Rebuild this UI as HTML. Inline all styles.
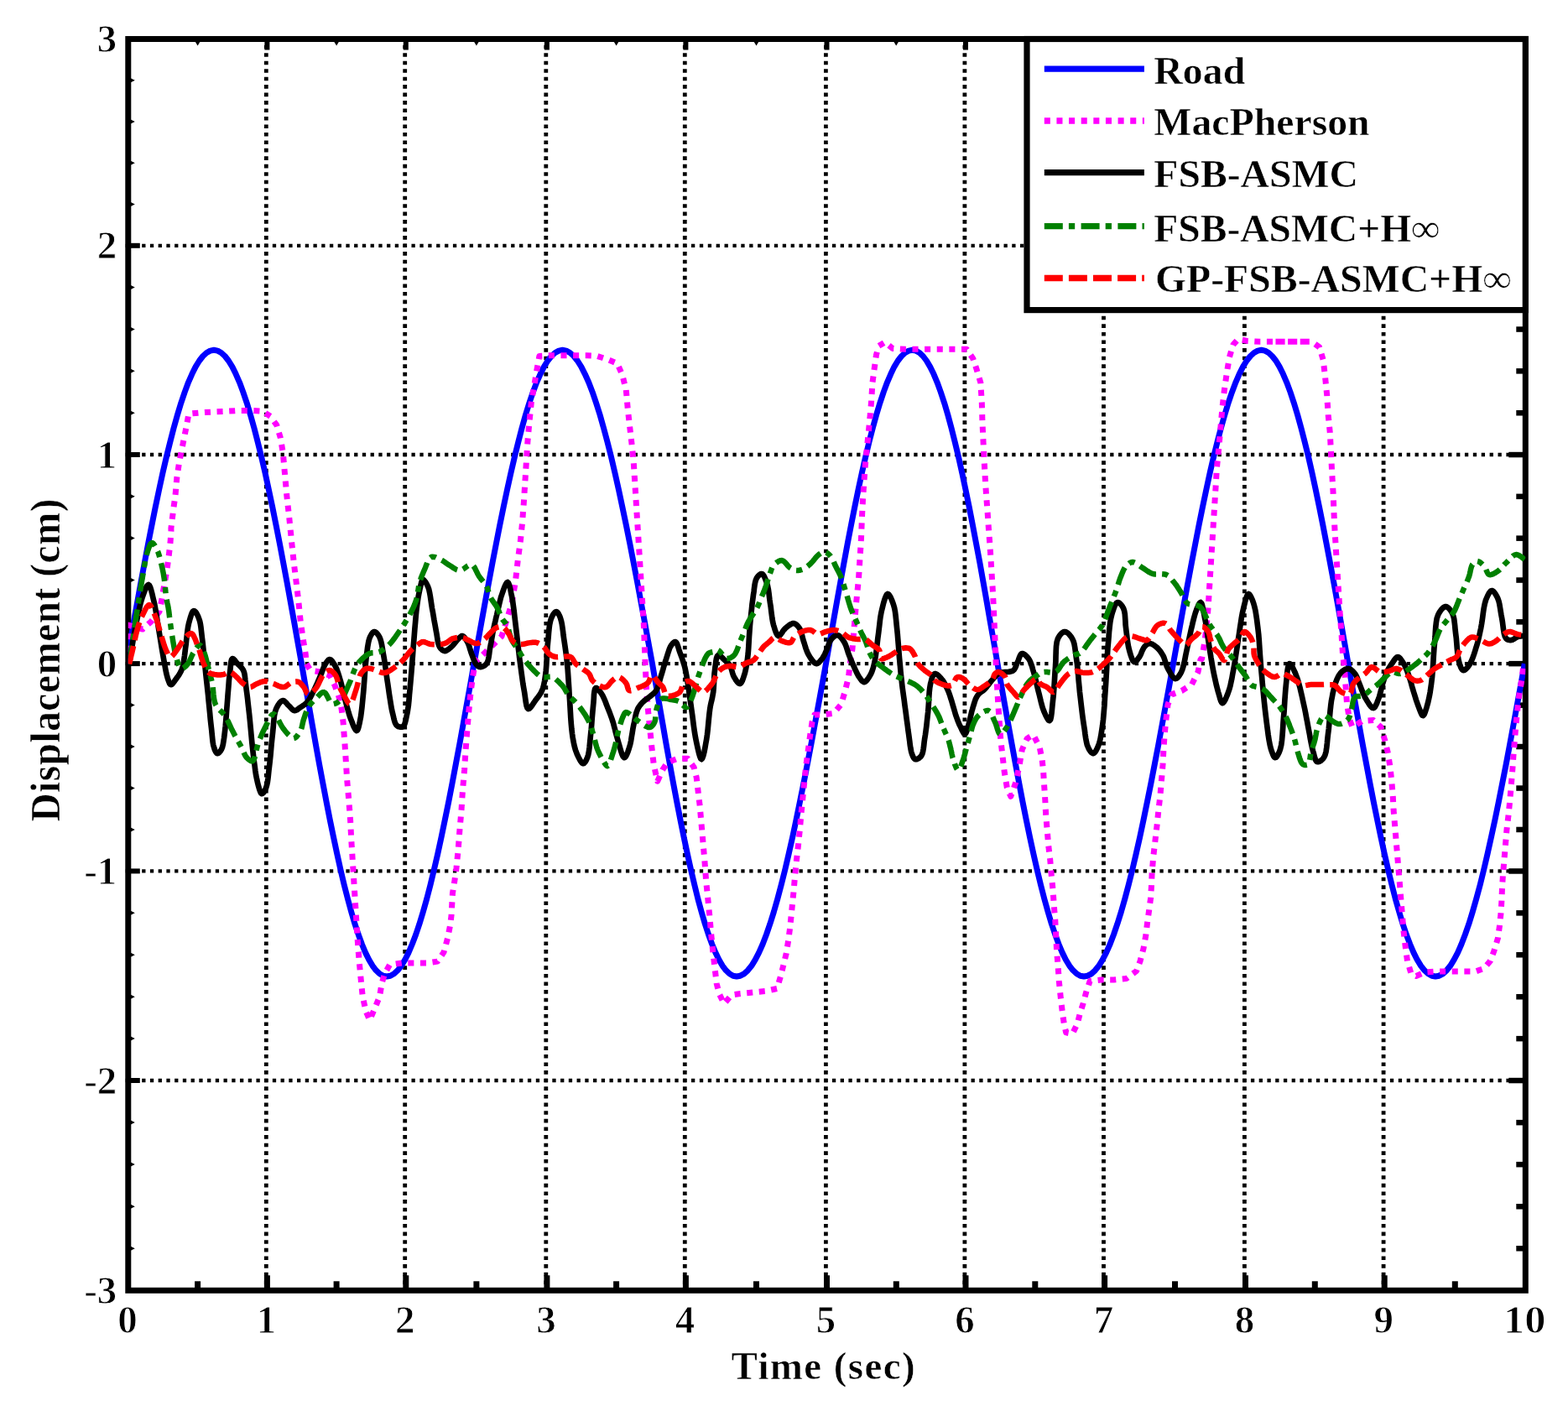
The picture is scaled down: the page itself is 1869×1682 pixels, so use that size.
<!DOCTYPE html>
<html lang="en"><head><meta charset="utf-8"><title>Displacement vs Time</title>
<style>html,body{margin:0;padding:0;background:#fff}body{width:1869px;height:1682px;overflow:hidden}svg{display:block}text{font-family:"Liberation Serif","DejaVu Serif",serif;font-weight:bold;fill:#000}.tk{font-size:47px;stroke:#fff;stroke-width:.9px}.lb{font-size:47px;stroke:#fff;stroke-width:.5px}.lg{font-size:47px;stroke:#fff;stroke-width:.5px}</style></head><body>
<svg width="1869" height="1682" viewBox="0 0 1869 1682">
<rect width="1869" height="1682" fill="#fff"/>
<defs><clipPath id="ax"><rect x="152.8" y="46.5" width="1665.5" height="1491.8"/></clipPath></defs>
<g fill="none" stroke="#000" stroke-width="4.3"><path d="M149.7 292.8 H315.1" stroke-dasharray="4.3 5.435"/><path d="M315.1 292.8 H480.5" stroke-dasharray="4.3 5.429"/><path d="M480.6 292.8 H648.6" stroke-dasharray="4.3 5.588"/><path d="M648.6 292.8 H814.1" stroke-dasharray="4.3 5.435"/><path d="M814.1 292.8 H982.2" stroke-dasharray="4.3 5.588"/><path d="M982.2 292.8 H1147.7" stroke-dasharray="4.3 5.435"/><path d="M1147.8 292.8 H1313.3" stroke-dasharray="4.3 5.441"/><path d="M1313.3 292.8 H1481.2" stroke-dasharray="4.3 5.576"/><path d="M1481.2 292.8 H1646.9" stroke-dasharray="4.3 5.447"/><path d="M1647 292.8 H1815.1" stroke-dasharray="4.3 5.594"/><path d="M149.7 542 H315.1" stroke-dasharray="4.3 5.435"/><path d="M315.1 542 H480.5" stroke-dasharray="4.3 5.429"/><path d="M480.6 542 H648.6" stroke-dasharray="4.3 5.588"/><path d="M648.6 542 H814.1" stroke-dasharray="4.3 5.435"/><path d="M814.1 542 H982.2" stroke-dasharray="4.3 5.588"/><path d="M982.2 542 H1147.7" stroke-dasharray="4.3 5.435"/><path d="M1147.8 542 H1313.3" stroke-dasharray="4.3 5.441"/><path d="M1313.3 542 H1481.2" stroke-dasharray="4.3 5.576"/><path d="M1481.2 542 H1646.9" stroke-dasharray="4.3 5.447"/><path d="M1647 542 H1815.1" stroke-dasharray="4.3 5.594"/><path d="M149.7 791.1 H315.1" stroke-dasharray="4.3 5.435"/><path d="M315.1 791.1 H480.5" stroke-dasharray="4.3 5.429"/><path d="M480.6 791.1 H648.6" stroke-dasharray="4.3 5.588"/><path d="M648.6 791.1 H814.1" stroke-dasharray="4.3 5.435"/><path d="M814.1 791.1 H982.2" stroke-dasharray="4.3 5.588"/><path d="M982.2 791.1 H1147.7" stroke-dasharray="4.3 5.435"/><path d="M1147.8 791.1 H1313.3" stroke-dasharray="4.3 5.441"/><path d="M1313.3 791.1 H1481.2" stroke-dasharray="4.3 5.576"/><path d="M1481.2 791.1 H1646.9" stroke-dasharray="4.3 5.447"/><path d="M1647 791.1 H1815.1" stroke-dasharray="4.3 5.594"/><path d="M149.7 1038.4 H315.1" stroke-dasharray="4.3 5.435"/><path d="M315.1 1038.4 H480.5" stroke-dasharray="4.3 5.429"/><path d="M480.6 1038.4 H648.6" stroke-dasharray="4.3 5.588"/><path d="M648.6 1038.4 H814.1" stroke-dasharray="4.3 5.435"/><path d="M814.1 1038.4 H982.2" stroke-dasharray="4.3 5.588"/><path d="M982.2 1038.4 H1147.7" stroke-dasharray="4.3 5.435"/><path d="M1147.8 1038.4 H1313.3" stroke-dasharray="4.3 5.441"/><path d="M1313.3 1038.4 H1481.2" stroke-dasharray="4.3 5.576"/><path d="M1481.2 1038.4 H1646.9" stroke-dasharray="4.3 5.447"/><path d="M1647 1038.4 H1815.1" stroke-dasharray="4.3 5.594"/><path d="M149.7 1288 H315.1" stroke-dasharray="4.3 5.435"/><path d="M315.1 1288 H480.5" stroke-dasharray="4.3 5.429"/><path d="M480.6 1288 H648.6" stroke-dasharray="4.3 5.588"/><path d="M648.6 1288 H814.1" stroke-dasharray="4.3 5.435"/><path d="M814.1 1288 H982.2" stroke-dasharray="4.3 5.588"/><path d="M982.2 1288 H1147.7" stroke-dasharray="4.3 5.435"/><path d="M1147.8 1288 H1313.3" stroke-dasharray="4.3 5.441"/><path d="M1313.3 1288 H1481.2" stroke-dasharray="4.3 5.576"/><path d="M1481.2 1288 H1646.9" stroke-dasharray="4.3 5.447"/><path d="M1647 1288 H1815.1" stroke-dasharray="4.3 5.594"/></g>
<g fill="none" stroke="#000" stroke-width="4.8"><path d="M317.3 44.3 V290.5" stroke-dasharray="4.6 4.869"/><path d="M317.3 290.5 V539.7" stroke-dasharray="4.6 4.985"/><path d="M317.3 539.7 V788.8" stroke-dasharray="4.6 4.981"/><path d="M317.3 788.8 V1036.1" stroke-dasharray="4.6 4.912"/><path d="M317.3 1036.1 V1285.7" stroke-dasharray="4.6 5.000"/><path d="M317.3 1285.7 V1536" stroke-dasharray="4.6 5.027"/><path d="M482.7 44.3 V290.5" stroke-dasharray="4.6 4.869"/><path d="M482.7 290.5 V539.7" stroke-dasharray="4.6 4.985"/><path d="M482.7 539.7 V788.8" stroke-dasharray="4.6 4.981"/><path d="M482.7 788.8 V1036.1" stroke-dasharray="4.6 4.912"/><path d="M482.7 1036.1 V1285.7" stroke-dasharray="4.6 5.000"/><path d="M482.7 1285.7 V1536" stroke-dasharray="4.6 5.027"/><path d="M650.8 44.3 V290.5" stroke-dasharray="4.6 4.869"/><path d="M650.8 290.5 V539.7" stroke-dasharray="4.6 4.985"/><path d="M650.8 539.7 V788.8" stroke-dasharray="4.6 4.981"/><path d="M650.8 788.8 V1036.1" stroke-dasharray="4.6 4.912"/><path d="M650.8 1036.1 V1285.7" stroke-dasharray="4.6 5.000"/><path d="M650.8 1285.7 V1536" stroke-dasharray="4.6 5.027"/><path d="M816.3 44.3 V290.5" stroke-dasharray="4.6 4.869"/><path d="M816.3 290.5 V539.7" stroke-dasharray="4.6 4.985"/><path d="M816.3 539.7 V788.8" stroke-dasharray="4.6 4.981"/><path d="M816.3 788.8 V1036.1" stroke-dasharray="4.6 4.912"/><path d="M816.3 1036.1 V1285.7" stroke-dasharray="4.6 5.000"/><path d="M816.3 1285.7 V1536" stroke-dasharray="4.6 5.027"/><path d="M984.4 44.3 V290.5" stroke-dasharray="4.6 4.869"/><path d="M984.4 290.5 V539.7" stroke-dasharray="4.6 4.985"/><path d="M984.4 539.7 V788.8" stroke-dasharray="4.6 4.981"/><path d="M984.4 788.8 V1036.1" stroke-dasharray="4.6 4.912"/><path d="M984.4 1036.1 V1285.7" stroke-dasharray="4.6 5.000"/><path d="M984.4 1285.7 V1536" stroke-dasharray="4.6 5.027"/><path d="M1149.9 44.3 V290.5" stroke-dasharray="4.6 4.869"/><path d="M1149.9 290.5 V539.7" stroke-dasharray="4.6 4.985"/><path d="M1149.9 539.7 V788.8" stroke-dasharray="4.6 4.981"/><path d="M1149.9 788.8 V1036.1" stroke-dasharray="4.6 4.912"/><path d="M1149.9 1036.1 V1285.7" stroke-dasharray="4.6 5.000"/><path d="M1149.9 1285.7 V1536" stroke-dasharray="4.6 5.027"/><path d="M1315.5 44.3 V290.5" stroke-dasharray="4.6 4.869"/><path d="M1315.5 290.5 V539.7" stroke-dasharray="4.6 4.985"/><path d="M1315.5 539.7 V788.8" stroke-dasharray="4.6 4.981"/><path d="M1315.5 788.8 V1036.1" stroke-dasharray="4.6 4.912"/><path d="M1315.5 1036.1 V1285.7" stroke-dasharray="4.6 5.000"/><path d="M1315.5 1285.7 V1536" stroke-dasharray="4.6 5.027"/><path d="M1483.4 44.3 V290.5" stroke-dasharray="4.6 4.869"/><path d="M1483.4 290.5 V539.7" stroke-dasharray="4.6 4.985"/><path d="M1483.4 539.7 V788.8" stroke-dasharray="4.6 4.981"/><path d="M1483.4 788.8 V1036.1" stroke-dasharray="4.6 4.912"/><path d="M1483.4 1036.1 V1285.7" stroke-dasharray="4.6 5.000"/><path d="M1483.4 1285.7 V1536" stroke-dasharray="4.6 5.027"/><path d="M1649.1 44.3 V290.5" stroke-dasharray="4.6 4.869"/><path d="M1649.1 290.5 V539.7" stroke-dasharray="4.6 4.985"/><path d="M1649.1 539.7 V788.8" stroke-dasharray="4.6 4.981"/><path d="M1649.1 788.8 V1036.1" stroke-dasharray="4.6 4.912"/><path d="M1649.1 1036.1 V1285.7" stroke-dasharray="4.6 5.000"/><path d="M1649.1 1285.7 V1536" stroke-dasharray="4.6 5.027"/></g>
<g fill="#000"><rect x="314.9" y="1520.3" width="7" height="15"/><rect x="480.3" y="1520.3" width="7" height="15"/><rect x="648.4" y="1520.3" width="7" height="15"/><rect x="813.9" y="1520.3" width="7" height="15"/><rect x="982" y="1520.3" width="7" height="15"/><rect x="1147.5" y="1520.3" width="7" height="15"/><rect x="1313.1" y="1520.3" width="7" height="15"/><rect x="1481" y="1520.3" width="7" height="15"/><rect x="1646.7" y="1520.3" width="7" height="15"/><rect x="232.1" y="1527.3" width="7" height="8"/><rect x="397.6" y="1527.3" width="7" height="8"/><rect x="564.4" y="1527.3" width="7" height="8"/><rect x="731.1" y="1527.3" width="7" height="8"/><rect x="898" y="1527.3" width="7" height="8"/><rect x="1064.8" y="1527.3" width="7" height="8"/><rect x="1230.3" y="1527.3" width="7" height="8"/><rect x="1397" y="1527.3" width="7" height="8"/><rect x="1563.8" y="1527.3" width="7" height="8"/><rect x="1730.8" y="1527.3" width="7" height="8"/><rect x="315.4" y="49.5" width="6" height="10"/><rect x="480.8" y="49.5" width="6" height="10"/><rect x="648.9" y="49.5" width="6" height="10"/><rect x="814.4" y="49.5" width="6" height="10"/><rect x="982.5" y="49.5" width="6" height="10"/><rect x="1148" y="49.5" width="6" height="10"/><rect x="1313.6" y="49.5" width="6" height="10"/><rect x="1481.5" y="49.5" width="6" height="10"/><rect x="1647.2" y="49.5" width="6" height="10"/><path d="M232.6 49.5 h6 l-3 5z"/><path d="M398.1 49.5 h6 l-3 5z"/><path d="M564.9 49.5 h6 l-3 5z"/><path d="M731.6 49.5 h6 l-3 5z"/><path d="M898.5 49.5 h6 l-3 5z"/><path d="M1065.2 49.5 h6 l-3 5z"/><path d="M1230.8 49.5 h6 l-3 5z"/><path d="M1397.5 49.5 h6 l-3 5z"/><path d="M1564.3 49.5 h6 l-3 5z"/><path d="M1731.3 49.5 h6 l-3 5z"/><rect x="155.8" y="289.8" width="11" height="6"/><rect x="1798.3" y="289.6" width="17" height="6.5"/><rect x="155.8" y="539" width="11" height="6"/><rect x="1798.3" y="538.8" width="17" height="6.5"/><rect x="155.8" y="788.1" width="11" height="6"/><rect x="1798.3" y="787.9" width="17" height="6.5"/><rect x="155.8" y="1035.4" width="11" height="6"/><rect x="1798.3" y="1035.2" width="17" height="6.5"/><rect x="155.8" y="1285" width="11" height="6"/><rect x="1798.3" y="1284.8" width="17" height="6.5"/><path d="M155.8 93.3 v5 l5 -2.5z"/><rect x="1807.3" y="92.6" width="8" height="6.5"/><path d="M155.8 142.6 v5 l5 -2.5z"/><rect x="1807.3" y="141.9" width="8" height="6.5"/><path d="M155.8 191.8 v5 l5 -2.5z"/><rect x="1807.3" y="191.1" width="8" height="6.5"/><path d="M155.8 241.1 v5 l5 -2.5z"/><rect x="1807.3" y="240.4" width="8" height="6.5"/><path d="M155.8 340.1 v5 l5 -2.5z"/><rect x="1807.3" y="339.4" width="8" height="6.5"/><path d="M155.8 390 v5 l5 -2.5z"/><rect x="1807.3" y="389.3" width="8" height="6.5"/><path d="M155.8 439.8 v5 l5 -2.5z"/><rect x="1807.3" y="439.1" width="8" height="6.5"/><path d="M155.8 489.7 v5 l5 -2.5z"/><rect x="1807.3" y="489" width="8" height="6.5"/><path d="M155.8 589.3 v5 l5 -2.5z"/><rect x="1807.3" y="588.6" width="8" height="6.5"/><path d="M155.8 639.1 v5 l5 -2.5z"/><rect x="1807.3" y="638.4" width="8" height="6.5"/><path d="M155.8 689 v5 l5 -2.5z"/><rect x="1807.3" y="688.3" width="8" height="6.5"/><path d="M155.8 738.8 v5 l5 -2.5z"/><rect x="1807.3" y="738.1" width="8" height="6.5"/><path d="M155.8 838.1 v5 l5 -2.5z"/><rect x="1807.3" y="837.4" width="8" height="6.5"/><path d="M155.8 887.5 v5 l5 -2.5z"/><rect x="1807.3" y="886.8" width="8" height="6.5"/><path d="M155.8 937 v5 l5 -2.5z"/><rect x="1807.3" y="936.3" width="8" height="6.5"/><path d="M155.8 986.4 v5 l5 -2.5z"/><rect x="1807.3" y="985.7" width="8" height="6.5"/><path d="M155.8 1085.8 v5 l5 -2.5z"/><rect x="1807.3" y="1085.1" width="8" height="6.5"/><path d="M155.8 1135.7 v5 l5 -2.5z"/><rect x="1807.3" y="1135" width="8" height="6.5"/><path d="M155.8 1185.7 v5 l5 -2.5z"/><rect x="1807.3" y="1185" width="8" height="6.5"/><path d="M155.8 1235.6 v5 l5 -2.5z"/><rect x="1807.3" y="1234.9" width="8" height="6.5"/><path d="M155.8 1335.6 v5 l5 -2.5z"/><rect x="1807.3" y="1334.9" width="8" height="6.5"/><path d="M155.8 1385.6 v5 l5 -2.5z"/><rect x="1807.3" y="1384.9" width="8" height="6.5"/><path d="M155.8 1435.7 v5 l5 -2.5z"/><rect x="1807.3" y="1435" width="8" height="6.5"/><path d="M155.8 1485.7 v5 l5 -2.5z"/><rect x="1807.3" y="1485" width="8" height="6.5"/></g>
<rect x="152.8" y="46.5" width="1665.5" height="1491.8" fill="none" stroke="#000" stroke-width="7.0"/>
<g clip-path="url(#ax)" fill="none" stroke-linejoin="round">
<path d="M150.5 791.1 L154.9 766.7 L159.2 742.3 L163.6 718.2 L167.9 694.4 L172.3 670.9 L176.6 648.1 L181 625.8 L185.3 604.2 L189.7 583.4 L194 563.5 L198.4 544.6 L202.8 526.8 L207.1 510.1 L211.5 494.5 L215.8 480.3 L220.2 467.4 L224.5 455.8 L228.9 445.8 L233.2 437.1 L237.6 430 L241.9 424.5 L246.3 420.5 L250.6 418.1 L255 417.3 L259.4 418.1 L263.7 420.5 L268.1 424.5 L272.4 430 L276.8 437.1 L281.1 445.8 L285.5 455.8 L289.8 467.4 L294.2 480.3 L298.5 494.5 L302.9 510.1 L307.2 526.8 L311.6 544.6 L316 563.5 L320.3 583.4 L324.7 604.2 L329 625.8 L333.4 648.1 L337.7 670.9 L342.1 694.4 L346.4 718.2 L350.8 742.3 L355.1 766.7 L359.5 791.1 L363.7 815.5 L368 839.8 L372.2 863.8 L376.4 887.6 L380.6 911 L384.9 933.8 L389.1 956 L393.3 977.5 L397.6 998.3 L401.8 1018.1 L406 1037 L410.2 1054.8 L414.5 1071.5 L418.7 1086.9 L422.9 1101.2 L427.2 1114 L431.4 1125.5 L435.6 1135.6 L439.9 1144.2 L444.1 1151.3 L448.3 1156.8 L452.5 1160.8 L456.8 1163.2 L461 1164 L465.3 1163.2 L469.7 1160.8 L474 1156.8 L478.3 1151.3 L482.7 1144.2 L487 1135.6 L491.3 1125.5 L495.7 1114 L500 1101.2 L504.3 1086.9 L508.7 1071.5 L513 1054.8 L517.3 1037 L521.7 1018.1 L526 998.3 L530.3 977.5 L534.7 956 L539 933.8 L543.3 911 L547.7 887.6 L552 863.8 L556.3 839.8 L560.7 815.5 L565 791.1 L569.4 766.7 L573.8 742.3 L578.2 718.2 L582.6 694.4 L587 670.9 L591.4 648.1 L595.8 625.8 L600.2 604.2 L604.6 583.4 L609 563.5 L613.4 544.6 L617.8 526.8 L622.1 510.1 L626.5 494.5 L630.9 480.3 L635.3 467.4 L639.7 455.8 L644.1 445.8 L648.5 437.1 L652.9 430 L657.3 424.5 L661.7 420.5 L666.1 418.1 L670.5 417.3 L675 418.1 L679.4 420.5 L683.9 424.5 L688.3 430 L692.8 437.1 L697.2 445.8 L701.7 455.8 L706.2 467.4 L710.6 480.3 L715.1 494.5 L719.5 510.1 L724 526.8 L728.5 544.6 L732.9 563.5 L737.4 583.4 L741.8 604.2 L746.3 625.8 L750.8 648.1 L755.2 670.9 L759.7 694.4 L764.1 718.2 L768.6 742.3 L773 766.7 L777.5 791.1 L781.7 815.5 L785.9 839.8 L790.1 863.8 L794.2 887.6 L798.4 911 L802.6 933.8 L806.8 956 L811 977.5 L815.2 998.3 L819.4 1018.1 L823.6 1037 L827.8 1054.8 L831.9 1071.5 L836.1 1086.9 L840.3 1101.2 L844.5 1114 L848.7 1125.5 L852.9 1135.6 L857.1 1144.2 L861.2 1151.3 L865.4 1156.8 L869.6 1160.8 L873.8 1163.2 L878 1164 L882.4 1163.2 L886.9 1160.8 L891.3 1156.8 L895.8 1151.3 L900.2 1144.2 L904.6 1135.6 L909.1 1125.5 L913.5 1114 L917.9 1101.2 L922.4 1086.9 L926.8 1071.5 L931.2 1054.8 L935.7 1037 L940.1 1018.1 L944.6 998.3 L949 977.5 L953.4 956 L957.9 933.8 L962.3 911 L966.8 887.6 L971.2 863.8 L975.6 839.8 L980.1 815.5 L984.5 791.1 L988.8 766.7 L993.1 742.3 L997.4 718.2 L1001.7 694.4 L1006 670.9 L1010.2 648.1 L1014.5 625.8 L1018.8 604.2 L1023.1 583.4 L1027.4 563.5 L1031.7 544.6 L1036 526.8 L1040.3 510.1 L1044.6 494.5 L1048.9 480.3 L1053.2 467.4 L1057.5 455.8 L1061.8 445.8 L1066 437.1 L1070.3 430 L1074.6 424.5 L1078.9 420.5 L1083.2 418.1 L1087.5 417.3 L1091.7 418.1 L1096 420.5 L1100.2 424.5 L1104.4 430 L1108.6 437.1 L1112.9 445.8 L1117.1 455.8 L1121.3 467.4 L1125.6 480.3 L1129.8 494.5 L1134 510.1 L1138.2 526.8 L1142.5 544.6 L1146.7 563.5 L1150.9 583.4 L1155.2 604.2 L1159.4 625.8 L1163.6 648.1 L1167.9 670.9 L1172.1 694.4 L1176.3 718.2 L1180.5 742.3 L1184.8 766.7 L1189 791.1 L1193.3 815.5 L1197.6 839.8 L1201.9 863.8 L1206.2 887.6 L1210.5 911 L1214.8 933.8 L1219 956 L1223.3 977.5 L1227.6 998.3 L1231.9 1018.1 L1236.2 1037 L1240.5 1054.8 L1244.8 1071.5 L1249.1 1086.9 L1253.4 1101.2 L1257.7 1114 L1262 1125.5 L1266.2 1135.6 L1270.5 1144.2 L1274.8 1151.3 L1279.1 1156.8 L1283.4 1160.8 L1287.7 1163.2 L1292 1164 L1296.4 1163.2 L1300.9 1160.8 L1305.3 1156.8 L1309.8 1151.3 L1314.2 1144.2 L1318.6 1135.6 L1323.1 1125.5 L1327.5 1114 L1331.9 1101.2 L1336.4 1086.9 L1340.8 1071.5 L1345.2 1054.8 L1349.7 1037 L1354.1 1018.1 L1358.6 998.3 L1363 977.5 L1367.4 956 L1371.9 933.8 L1376.3 911 L1380.8 887.6 L1385.2 863.8 L1389.6 839.8 L1394.1 815.5 L1398.5 791.1 L1402.9 766.7 L1407.2 742.3 L1411.6 718.2 L1416 694.4 L1420.4 670.9 L1424.8 648.1 L1429.1 625.8 L1433.5 604.2 L1437.9 583.4 L1442.2 563.5 L1446.6 544.6 L1451 526.8 L1455.4 510.1 L1459.8 494.5 L1464.1 480.3 L1468.5 467.4 L1472.9 455.8 L1477.2 445.8 L1481.6 437.1 L1486 430 L1490.4 424.5 L1494.8 420.5 L1499.1 418.1 L1503.5 417.3 L1507.8 418.1 L1512.1 420.5 L1516.4 424.5 L1520.8 430 L1525.1 437.1 L1529.4 445.8 L1533.7 455.8 L1538 467.4 L1542.3 480.3 L1546.6 494.5 L1550.9 510.1 L1555.2 526.8 L1559.6 544.6 L1563.9 563.5 L1568.2 583.4 L1572.5 604.2 L1576.8 625.8 L1581.1 648.1 L1585.4 670.9 L1589.8 694.4 L1594.1 718.2 L1598.4 742.3 L1602.7 766.7 L1607 791.1 L1611.3 815.5 L1615.7 839.8 L1620 863.8 L1624.3 887.6 L1628.7 911 L1633 933.8 L1637.3 956 L1641.7 977.6 L1646 998.3 L1650.3 1018.1 L1654.7 1037 L1659 1054.8 L1663.3 1071.5 L1667.7 1086.9 L1672 1101.2 L1676.3 1114 L1680.7 1125.5 L1685 1135.6 L1689.3 1144.2 L1693.7 1151.3 L1698 1156.8 L1702.3 1160.8 L1706.7 1163.2 L1711 1164 L1715.4 1163.2 L1719.9 1160.8 L1724.3 1156.8 L1728.7 1151.3 L1733.1 1144.2 L1737.6 1135.6 L1742 1125.5 L1746.4 1114 L1750.9 1101.2 L1755.3 1086.9 L1759.7 1071.5 L1764.2 1054.8 L1768.6 1037 L1773 1018.1 L1777.4 998.3 L1781.9 977.6 L1786.3 956 L1790.7 933.8 L1795.2 911 L1799.6 887.6 L1804 863.8 L1808.4 839.8 L1812.9 815.5 L1817.3 791.1" stroke="#0000ff" stroke-width="7"/>
<path d="M152.8 791.5 L152.8 745.1 L170 750.1 L180 741.1 L190 729.1 L192.4 717 L194.4 705 L197 691 L199.4 676 L201.4 661 L203 647 L204 633 L203.9 629.7 L206.9 605.7 L209 590.7 L210.8 569.7 L213.5 551.8 L216.5 536.8 L219.5 521.8 L222.5 506.8 L224.9 493.3 L239.9 491.8 L254.9 490.9 L269.9 490.3 L284.8 489.4 L299.8 489.4 L313.3 490.3 L322.3 496.3 L329.8 506.8 L334.3 521.8 L337.3 539.8 L339.4 563.7 L341.8 590.7 L344.8 617.7 L347.8 647.6 L350.7 674.6 L353.7 698.6 L356.1 719.6 L358.2 740.5 L361.2 761.5 L364.2 779.5 L365.1 791.1 L370.1 799.1 L382.1 801.1 L393.1 805.1 L399.1 817.1 L404.1 831.1 L407.1 845.1 L409.1 861.1 L410.1 875.1 L410.7 881.9 L412.2 905.8 L413.7 929.8 L415.8 953.8 L417.6 977.8 L418.8 1001.7 L420.3 1025.7 L421.8 1049.7 L423.3 1073.6 L424.8 1097.6 L426.3 1121.6 L428.1 1145.5 L430.1 1166.5 L432.2 1187.5 L436.1 1205.5 L440.6 1216 L446.6 1202.5 L452.6 1187.5 L455 1172.5 L458.6 1160.5 L464.6 1150 L479.6 1147.9 L494.6 1147.9 L509.6 1147.9 L521.5 1146.1 L529 1135.1 L533.5 1118.6 L536.5 1103.6 L538 1091.6 L539.5 1064.6 L541.9 1049.7 L544 1034.7 L546.1 1013.7 L547.9 989.7 L550 965.8 L551.5 941.8 L553.6 917.8 L555.1 893.9 L556.9 869.9 L559 845.9 L561.1 824.9 L563.5 807 L566.5 789 L589 767.5 L598 758.5 L610 719.6 L614.5 692.6 L617.5 665.6 L620.4 644.6 L622.5 623.7 L624.3 599.7 L625.8 575.7 L627.3 551.8 L628.8 527.8 L630.9 503.8 L633.3 479.9 L636.9 458.9 L639.9 440.9 L642.9 424.4 L654.9 423.8 L669.9 423.8 L684.9 423.8 L699.9 423.8 L711.8 424.4 L723.8 428.3 L735.8 433.4 L741.8 446.9 L746.3 464.9 L748.4 488.8 L750.8 509.8 L753.2 530.8 L755.3 551.8 L756.8 575.7 L758.3 599.7 L759.8 623.7 L761.3 647.6 L762.8 671.6 L764.3 695.6 L765.8 719.6 L767.3 743.5 L769.4 798 L770.6 821.9 L772.4 845.9 L774.8 869.9 L776.9 890.9 L779.3 911.8 L783.7 931.3 L789.7 917.8 L795.7 908.8 L807.7 904.3 L819.7 904.3 L827.2 914.8 L830.2 926.8 L832.3 944.8 L834.1 959.8 L836.2 983.7 L838.3 1007.7 L840.1 1028.7 L841.6 1049.7 L843.7 1070.6 L845.8 1091.6 L847.6 1112.6 L849.7 1133.6 L852.1 1154.5 L854.2 1172.5 L857.2 1184.5 L863.1 1196.5 L872.1 1186 L882.6 1184.5 L897.6 1183 L912.6 1181.5 L926.1 1178.5 L930.6 1163.5 L933.6 1151.5 L937.2 1136.6 L939.6 1121.6 L941.6 1106.6 L943.1 1091.6 L944.6 1076.6 L946.1 1061.6 L947.6 1043.7 L949.4 1025.7 L951.5 1007.7 L953.3 989.7 L955.1 968.8 L956.9 950.8 L958.7 932.8 L960.5 914.8 L962.9 896.9 L965.3 878.9 L968 860.9 L971 851.9 L981.5 851.9 L993.5 850.4 L1002.5 839.9 L1007 824.9 L1011.5 807 L1013 792 L1016 773.5 L1020.5 719.6 L1023.5 689.6 L1025 665.6 L1026.5 641.6 L1027.4 617.7 L1028.6 593.7 L1029.8 575.7 L1031.6 551.8 L1034 527.8 L1036.4 503.8 L1038.5 479.9 L1040 455.9 L1042.4 437.9 L1044.5 422.9 L1047.5 412.4 L1054.9 407.9 L1063.9 415.4 L1078.9 416.3 L1093.9 416.3 L1108.9 416.3 L1123.9 416.3 L1138.8 416.3 L1152.3 416.3 L1159.8 427.4 L1164.3 440.9 L1168.8 455.9 L1170.3 479.9 L1170.9 500.8 L1171.8 521.8 L1172.7 539.8 L1173.9 563.7 L1175.4 587.7 L1177.2 611.7 L1178.4 629.7 L1180.2 653.6 L1181.7 677.6 L1183.2 701.6 L1184.4 725.5 L1186.8 780 L1187.4 798 L1188.6 819 L1189.8 839.9 L1191.3 860.9 L1192.8 881.9 L1195.2 902.8 L1197.3 920.8 L1200.3 938.8 L1204.8 949.3 L1210.7 932.8 L1215.2 911.8 L1218.2 893.9 L1224.2 880.4 L1231.7 875.9 L1239.2 890.9 L1242.2 905.8 L1243.7 920.8 L1244.6 935.8 L1245.8 953.8 L1246.7 971.8 L1248.2 989.7 L1249.7 1007.7 L1251.8 1025.7 L1253.3 1043.7 L1255.1 1061.6 L1256.3 1079.6 L1257.8 1097.6 L1258.7 1115.6 L1259.6 1133.6 L1261.1 1151.5 L1262.3 1169.5 L1264.1 1187.5 L1266.2 1205.5 L1268.3 1220.4 L1270.7 1230.9 L1278.2 1232.4 L1284.2 1220.4 L1287.2 1208.5 L1291 1196.5 L1294.6 1183 L1299.1 1169.5 L1312.6 1168 L1327.6 1168 L1342.6 1166.5 L1354.6 1157.5 L1359.1 1145.5 L1363 1130.6 L1365.7 1115.6 L1367.5 1100.6 L1369.6 1085.6 L1371.6 1070.6 L1372.5 1055.7 L1373.1 1040.7 L1374.9 1019.7 L1377 1001.7 L1379.1 983.7 L1380.9 965.8 L1383 947.8 L1384.5 929.8 L1386 911.8 L1386.9 893.9 L1388.1 875.9 L1389.9 857.9 L1392 839.9 L1396.5 827.9 L1408.5 823.4 L1420.5 816 L1428 801 L1431 786 L1432.5 785.5 L1435.5 767.5 L1437.9 749.5 L1440 725.5 L1441.5 701.6 L1443 677.6 L1444.5 653.6 L1446 629.7 L1447.5 605.7 L1449 581.7 L1450.4 557.8 L1452.8 533.8 L1454.9 509.8 L1457 485.8 L1459.4 464.9 L1462.4 443.9 L1465.4 425.9 L1469.9 410.9 L1475.9 404.3 L1486.4 406.4 L1501.4 407.3 L1519.4 407.3 L1537.3 407.3 L1555.3 407.3 L1518.7 407.3 L1548.7 407.3 L1563.7 407.3 L1572.7 413.9 L1577.2 428.9 L1579.6 449.9 L1581.7 470.9 L1583.2 494.8 L1585.3 515.8 L1586.5 539.8 L1587.7 563.7 L1589.1 587.7 L1590 611.7 L1591.2 635.7 L1592.7 659.6 L1594.2 683.6 L1595.7 707.6 L1597.2 731.5 L1599 755.5 L1600.5 779.5 L1602.6 798 L1604.1 819 L1605.6 839.9 L1608.6 857.9 L1612.2 866.9 L1623.6 859.4 L1637.1 858.5 L1646.1 866.9 L1650.6 881.9 L1654.2 896.9 L1656.6 911.8 L1658.7 929.8 L1660.2 947.8 L1661.1 965.8 L1662.6 983.7 L1664.1 1001.7 L1665.6 1019.7 L1667.1 1037.7 L1668.6 1055.7 L1670 1073.6 L1671.5 1091.6 L1673 1109.6 L1675.1 1127.6 L1677.5 1145.5 L1682 1160.5 L1688 1163.5 L1698.5 1159 L1710.5 1158.1 L1728.5 1158.1 L1743.5 1158.1 L1758.4 1158.1 L1768.9 1154.5 L1776.4 1145.5 L1780.9 1133.6 L1785.4 1118.6 L1787.5 1103.6 L1789 1088.6 L1789.9 1073.6 L1790.5 1058.7 L1791.4 1043.7 L1792.9 1025.7 L1794.4 1007.7 L1795.9 989.7 L1798 971.8 L1799.8 953.8 L1801.3 935.8 L1802.8 917.8 L1804 899.9 L1805.5 881.9 L1807 863.9 L1808.8 845.9 L1810.9 827.9 L1813.9 810 L1816 792" stroke="#ff00ff" stroke-width="7" stroke-dasharray="7.06 7.57"/>
<path d="M154 791.5 L154.4 789 L155.4 782.6 L156.9 773.6 L158.6 763.4 L160.4 753.4 L162 745.1 L163.2 738.9 L164.5 732.7 L165.8 726.7 L167.1 721 L168.5 715.7 L170 711 L171.1 708 L172.3 704.8 L173.5 701.8 L174.7 699.3 L175.9 697.6 L177 697 L178.1 697.9 L179.2 700.2 L180.2 703.5 L181.2 707.3 L182.1 711.3 L183 715 L184.2 720.1 L185.2 725.5 L186.2 731.3 L187.1 737.2 L188.1 743.2 L189 749.1 L190 755.1 L191 761.3 L192 767.5 L193 773.6 L194 779.5 L195 785.1 L195.8 789.5 L196.6 794 L197.4 798.3 L198.2 802.4 L199.1 806 L200 809.1 L200.6 810.7 L201.1 812.3 L201.7 813.7 L202.2 814.9 L202.9 815.7 L203.6 816.1 L204.6 815.9 L205.6 815 L206.7 813.7 L207.8 812.2 L209 810.6 L210 809.1 L211.3 807.4 L212.6 805.6 L213.8 803.7 L215 801.6 L216.1 799.4 L217 797.1 L218.1 793.7 L218.8 789.9 L219.4 785.8 L220 781.6 L220.5 777.3 L221 773.1 L221.7 768.1 L222.2 762.9 L222.8 757.6 L223.4 752.4 L224.1 747.5 L225 743.1 L225.9 739.9 L226.8 736.6 L227.8 733.4 L228.8 730.7 L229.9 728.8 L231 728.1 L232 728.4 L233.1 729.4 L234.2 731 L235.2 732.9 L236.2 735 L237 737.1 L238.1 740.3 L238.9 744 L239.5 748.1 L240 752.4 L240.5 756.8 L241 761.1 L241.6 765.8 L242.1 770.7 L242.6 775.6 L243.1 780.7 L243.5 785.8 L244.1 791.1 L244.7 797.2 L245.3 803.4 L246 809.8 L246.7 816.2 L247.4 822.7 L248.1 829.1 L248.7 835.9 L249.4 842.8 L250.1 849.8 L250.7 856.6 L251.4 863.1 L252.1 869.1 L252.5 873.3 L252.9 877.4 L253.3 881.4 L253.7 885 L254.3 888.3 L255.1 891.1 L255.6 892.7 L256.2 894.3 L256.9 895.7 L257.6 896.9 L258.3 897.8 L259.1 898.1 L259.8 898 L260.7 897.5 L261.6 896.7 L262.5 895.6 L263.3 894.4 L264.1 893.1 L265.1 890.5 L265.9 887.3 L266.5 883.5 L267.1 879.5 L267.6 875.3 L268.1 871.1 L268.7 865.6 L269.2 859.8 L269.7 853.6 L270.1 847.4 L270.6 841.2 L271.1 835.1 L271.5 829.2 L272 823.2 L272.5 817.2 L272.9 811.4 L273.5 806 L274.1 801.1 L274.5 797.7 L274.8 794.3 L275.1 790.9 L275.6 788.1 L276.2 786 L277.1 785.1 L277.9 785.2 L278.8 786 L279.9 787.1 L280.9 788.5 L282 789.9 L283.1 791.1 L284.3 792.3 L285.5 793.5 L286.8 794.7 L288 796 L289.1 797.5 L290.1 799.1 L291 801.5 L291.6 804.3 L292 807.2 L292.3 810.4 L292.7 813.7 L293.1 817.1 L293.7 822.1 L294.4 827.4 L295.1 833 L295.7 838.9 L296.4 844.9 L297.1 851.1 L297.9 859 L298.7 867.5 L299.5 876.2 L300.3 884.9 L301.2 893.3 L302.1 901.1 L302.8 907.1 L303.6 912.9 L304.3 918.5 L305.1 923.9 L306.1 928.8 L307.1 933.2 L307.8 936 L308.6 938.9 L309.4 941.6 L310.3 943.9 L311.1 945.5 L312.1 946.2 L312.9 945.9 L313.8 945.2 L314.7 944 L315.5 942.5 L316.4 940.8 L317.1 939.2 L318.1 935.9 L318.9 932 L319.5 927.6 L320 922.9 L320.5 918 L321.1 913.2 L321.8 906.9 L322.5 900.2 L323.1 893.2 L323.7 886.3 L324.4 879.5 L325.1 873.1 L325.6 868 L326 862.8 L326.5 857.8 L327 853.1 L327.9 848.8 L329.1 845.1 L330.2 842.8 L331.4 840.6 L332.8 838.5 L334.3 836.8 L335.7 835.6 L337.1 835.1 L338.3 835.3 L339.4 836.1 L340.6 837.3 L341.8 838.6 L342.9 840 L344.1 841.1 L345.3 842.2 L346.4 843.5 L347.6 844.8 L348.7 845.9 L349.9 846.7 L351.1 847.1 L352.2 847 L353.4 846.5 L354.6 845.8 L355.7 844.9 L356.9 844 L358.1 843.1 L359.5 842.3 L360.8 841.4 L362.2 840.5 L363.6 839.5 L364.9 838.4 L366.1 837.1 L367.6 835.2 L369 833.1 L370.3 830.7 L371.6 828.2 L372.9 825.6 L374.1 823.1 L375.5 820.2 L376.9 817.2 L378.3 814.1 L379.6 811 L380.9 808 L382.1 805.1 L383.2 802.6 L384.1 800 L385.1 797.5 L386 795.1 L387 792.9 L388.1 791.1 L388.9 789.9 L389.7 788.8 L390.6 787.7 L391.4 786.8 L392.3 786.3 L393.1 786.1 L394.1 786.4 L395.2 787.3 L396.2 788.5 L397.2 790 L398.2 791.5 L399.1 793.1 L400.3 795.3 L401.4 797.7 L402.3 800.4 L403.3 803.2 L404.2 806.1 L405.1 809.1 L406.2 812.8 L407.2 816.7 L408.2 820.8 L409.1 824.9 L410.1 829.1 L411.1 833.1 L412.2 837.2 L413.3 841.4 L414.5 845.6 L415.6 849.6 L416.8 853.5 L418.1 857.1 L419.3 860 L420.5 863.2 L421.7 866.2 L423 868.8 L424.1 870.5 L425.1 871.1 L426 870.6 L426.7 869.1 L427.4 867 L428 864.5 L428.6 861.8 L429.1 859.1 L430 854.5 L430.7 849.3 L431.4 843.5 L432 837.5 L432.6 831.3 L433.2 825.1 L433.8 817.6 L434.4 809.6 L435 801.3 L435.7 793.3 L436.4 785.7 L437.2 779.1 L437.7 775.1 L438.2 771.3 L438.8 767.8 L439.4 764.5 L440.2 761.6 L441.2 759.1 L441.9 757.7 L442.7 756.3 L443.5 755 L444.4 754 L445.3 753.3 L446.2 753.1 L447.1 753.3 L448.2 753.9 L449.2 754.9 L450.3 756.2 L451.3 757.6 L452.2 759.1 L453.3 761.8 L454.3 765.1 L455.1 768.8 L455.8 772.8 L456.4 777 L457.2 781.1 L458.1 786.3 L458.9 791.8 L459.7 797.6 L460.5 803.4 L461.3 809.3 L462.2 815.1 L463.1 821.2 L464 827.7 L465 834.1 L466 840.4 L467 846.1 L468.2 851.1 L468.9 854 L469.5 856.9 L470.2 859.5 L471 861.8 L472 863.7 L473.2 865.1 L474.2 865.8 L475.4 866.3 L476.7 866.6 L478 866.7 L479.1 866.6 L480.2 866.1 L481.4 864.9 L482.4 862.9 L483.2 860.3 L483.9 857.4 L484.5 854.3 L485.2 851.1 L486.1 846.1 L486.9 840.5 L487.5 834.5 L488 828.1 L488.6 821.6 L489.2 815.1 L489.9 807.2 L490.6 798.9 L491.2 790.4 L491.9 781.8 L492.5 773.3 L493.2 765.1 L493.8 757.4 L494.4 749.6 L495.1 741.9 L495.7 734.5 L496.4 727.5 L497.2 721.1 L497.8 716.8 L498.4 712.7 L499.1 708.9 L499.8 705.3 L500.5 702 L501.2 699 L501.6 697.3 L502 695.5 L502.4 693.9 L502.9 692.5 L503.4 691.5 L504 691 L504.9 691.3 L505.9 692.2 L507 693.6 L508.1 695.3 L509.1 697.2 L510 699 L511.2 702.4 L512.1 706.5 L512.9 711 L513.6 715.7 L514.3 720.5 L515 725.1 L515.9 729.7 L516.7 734.5 L517.5 739.4 L518.4 744.2 L519.2 748.7 L520 753.1 L520.6 756.4 L521.1 759.8 L521.6 763.1 L522.2 766.2 L523 768.8 L524 771.1 L524.8 772.3 L525.8 773.5 L526.8 774.5 L527.8 775.3 L528.9 775.8 L530 776.1 L531.3 775.9 L532.6 775.3 L534 774.4 L535.4 773.3 L536.7 772.2 L538 771.1 L539.3 769.9 L540.5 768.5 L541.6 767.1 L542.7 765.7 L543.9 764.3 L545 763.1 L546 762 L547 760.9 L548.1 759.8 L549.1 758.9 L550.1 758.2 L551 758.1 L552.1 758.4 L553.1 759.3 L554.2 760.5 L555.2 762 L556.1 763.6 L557 765.1 L558 767.1 L558.9 769.4 L559.7 771.8 L560.4 774.3 L561.2 776.8 L562 779.1 L562.8 781.2 L563.6 783.4 L564.4 785.6 L565.2 787.7 L566.1 789.5 L567 791.1 L567.8 792 L568.6 792.9 L569.4 793.7 L570.2 794.4 L571.1 794.9 L572 795.1 L573.3 795.1 L574.7 794.7 L576.2 794.1 L577.6 793.3 L578.9 792.3 L580 791.1 L581.2 788.9 L582 786.2 L582.6 783.1 L583.1 779.8 L583.5 776.4 L584 773.1 L584.7 769.5 L585.4 765.9 L586 762.2 L586.7 758.5 L587.3 754.8 L588 751.1 L588.8 747.4 L589.6 743.7 L590.5 740 L591.3 736.3 L592.2 732.7 L593 729.1 L593.8 725.6 L594.6 722.2 L595.4 718.8 L596.2 715.4 L597 712.2 L598.1 709 L599.1 706 L600.3 702.7 L601.5 699.4 L602.8 696.6 L604 694.7 L605.1 694 L606 694.9 L606.9 697 L607.8 700 L608.6 703.6 L609.3 707.4 L610.1 711 L611.1 716.5 L611.9 722.5 L612.8 729 L613.5 735.7 L614.3 742.4 L615.1 749.1 L615.9 756 L616.7 763.1 L617.5 770.2 L618.4 777.3 L619.2 784.3 L620.1 791.1 L620.9 797.1 L621.7 803 L622.5 808.9 L623.3 814.6 L624.2 820 L625.1 825.1 L625.7 829.2 L626.3 833.5 L626.9 837.7 L627.6 841.3 L628.5 843.9 L629.7 845.1 L630.8 844.8 L632.2 843.5 L633.7 841.6 L635.2 839.4 L636.7 837.1 L638.1 835.1 L639.5 833.2 L641 831.4 L642.4 829.4 L643.8 827.4 L645 825.3 L646.1 823.1 L647.1 820.5 L647.9 817.7 L648.5 814.9 L649.1 811.8 L649.6 808.6 L650.1 805.1 L650.8 799.3 L651.3 792.7 L651.7 785.6 L652.1 778.5 L652.5 771.5 L653.1 765.1 L653.6 759.9 L654 754.7 L654.5 749.6 L655.1 744.9 L656 740.6 L657.1 737.1 L657.9 735.2 L658.9 733.3 L660 731.6 L661.1 730.3 L662.1 729.4 L663.1 729.1 L664 729.4 L664.9 730.4 L665.8 731.8 L666.6 733.4 L667.4 735.2 L668.1 737.1 L669 740.2 L669.8 743.9 L670.4 748 L671 752.4 L671.5 756.8 L672.1 761.1 L672.8 765.8 L673.5 770.6 L674.2 775.5 L674.9 780.5 L675.5 785.7 L676.1 791.1 L676.7 798 L677.2 805.2 L677.7 812.7 L678.2 820.3 L678.6 827.8 L679.1 835.1 L679.5 842 L679.9 849 L680.3 856 L680.8 862.8 L681.4 869.2 L682.1 875.1 L682.7 879.3 L683.4 883.2 L684.1 887 L685 890.6 L685.9 893.9 L687.1 897.1 L688.2 899.9 L689.6 902.8 L691 905.5 L692.4 907.9 L693.8 909.5 L695.1 910.2 L696 909.9 L696.9 909.1 L697.8 907.9 L698.6 906.5 L699.4 904.8 L700.1 903.1 L701.2 899.7 L702 895.4 L702.6 890.6 L703.1 885.4 L703.6 880.2 L704.1 875.1 L704.7 869.6 L705.2 863.7 L705.6 857.8 L706.1 852 L706.6 846.3 L707.1 841.1 L707.5 836.9 L707.8 832.4 L708 828 L708.5 824.2 L709.1 821.4 L710.1 820.1 L711.1 820.2 L712.2 821 L713.5 822.3 L714.7 823.8 L716 825.5 L717.1 827.1 L718.4 829.3 L719.7 831.9 L720.8 834.6 L722 837.5 L723 840.3 L724.1 843.1 L725.2 845.7 L726.2 848.3 L727.2 850.9 L728.2 853.6 L729.2 856.3 L730.1 859.1 L731.2 862.6 L732.1 866.2 L733.1 869.9 L734 873.7 L735 877.4 L736.1 881.1 L737.3 885.3 L738.7 890.1 L740 894.9 L741.4 899 L742.8 902 L744.1 903.1 L745.2 902.6 L746.2 901.2 L747.3 899 L748.3 896.5 L749.3 893.7 L750.1 891.1 L751.2 887.4 L752.1 883.1 L752.8 878.6 L753.6 873.9 L754.3 869.4 L755.1 865.1 L755.9 861.5 L756.6 857.9 L757.3 854.3 L758.1 850.9 L759.1 847.8 L760.1 845.1 L761 843.5 L761.9 842.1 L762.8 840.8 L763.9 839.5 L765 838.3 L766.1 837.1 L767.6 835.7 L769.3 834.3 L771.1 833 L772.9 831.7 L774.6 830.4 L776.1 829.1 L777.3 828.1 L778.4 827.3 L779.4 826.4 L780.3 825.4 L781.3 824.4 L782.2 823.1 L783.4 820.7 L784.4 817.9 L785.4 814.8 L786.3 811.6 L787.2 808.3 L788.2 805.1 L789.2 801.8 L790.2 798.4 L791.1 795 L792.1 791.6 L793.1 788.3 L794.2 785.1 L795.1 782.2 L796 779.2 L797 776.2 L797.9 773.5 L799 771 L800.2 769.1 L801 768 L801.8 767 L802.7 766.2 L803.5 765.5 L804.4 765.1 L805.2 765.1 L806.1 765.8 L807 767.4 L807.8 769.6 L808.6 772.1 L809.4 774.7 L810.2 777.1 L811.2 779.8 L812.3 782.7 L813.3 785.7 L814.3 788.8 L815.3 791.9 L816.2 795.1 L817 798.6 L817.7 802.1 L818.4 805.8 L819 809.5 L819.6 813.2 L820.2 817.1 L820.9 821.5 L821.5 826 L822.1 830.6 L822.8 835.3 L823.5 840.1 L824.2 845.1 L825.1 851.5 L826 858.5 L826.9 865.6 L827.9 872.6 L829 879.2 L830.2 885.1 L831.1 889.4 L832.1 893.8 L833.1 898.1 L834.2 901.7 L835.2 904.2 L836.2 905.1 L837.2 904 L838.3 900.9 L839.4 896.5 L840.4 891.3 L841.3 886 L842.2 881.1 L843 875.5 L843.7 869.3 L844.3 862.9 L844.9 856.6 L845.5 850.6 L846.2 845.1 L846.8 841.5 L847.5 838.1 L848.3 834.9 L849 831.8 L849.6 828.5 L850.2 825.1 L850.6 820.9 L850.9 816.5 L851.1 812 L851.3 807.5 L851.5 803.2 L852 799.1 L852.4 795.5 L852.9 791.7 L853.4 788 L854 784.7 L854.9 782.3 L856 781.1 L857.1 781.1 L858.4 781.9 L859.8 783 L861.3 784.4 L862.7 785.9 L864 787.1 L865.1 788 L866.2 788.9 L867.2 789.8 L868.2 790.8 L869.1 791.9 L870 793.1 L871 795.1 L871.8 797.4 L872.5 800 L873.2 802.5 L874 805 L875 807.1 L876.1 808.8 L877.2 810.7 L878.5 812.4 L879.7 813.9 L880.9 814.8 L882 815.1 L883 814.5 L883.9 813.3 L884.8 811.5 L885.6 809.4 L886.3 807.2 L887 805.1 L887.9 802.3 L888.6 799.2 L889.3 796 L889.9 792.6 L890.5 788.9 L891 785.1 L891.7 779.2 L892.2 772.7 L892.6 765.8 L893 758.8 L893.5 751.8 L894 745.1 L894.6 738.8 L895.2 732.5 L895.9 726.3 L896.5 720.2 L897.3 714.4 L898 709 L898.6 705.2 L899 701.4 L899.5 697.7 L900.1 694.4 L900.9 691.4 L902 689 L902.9 687.7 L903.9 686.5 L904.9 685.4 L906 684.6 L907.1 684.1 L908 684 L909.2 684.7 L910.3 686.1 L911.3 688 L912.3 690.3 L913.2 692.7 L914 695 L915 698.4 L915.8 702.3 L916.4 706.4 L916.9 710.6 L917.4 714.9 L918 719.1 L918.7 723.4 L919.2 728 L919.8 732.6 L920.4 737.1 L921.1 741.3 L922 745.1 L922.9 747.8 L923.7 750.7 L924.7 753.4 L925.7 755.7 L926.8 757.3 L928 758.1 L929.2 757.7 L930.5 756.4 L931.8 754.6 L933.1 752.6 L934.6 750.6 L936 749.1 L937.6 747.7 L939.3 746.4 L941.1 745 L942.8 744 L944.5 743.2 L946.1 743.1 L947.4 743.4 L948.6 744.1 L949.8 745.1 L951 746.3 L952.1 747.7 L953.1 749.1 L954.2 751.2 L955.1 753.7 L955.8 756.5 L956.5 759.4 L957.2 762.3 L958.1 765.1 L959 767.8 L959.8 770.6 L960.7 773.4 L961.7 776.1 L962.8 778.7 L964.1 781.1 L965.4 783.2 L966.8 785.4 L968.4 787.5 L970 789.3 L971.6 790.6 L973.1 791.1 L974.3 790.9 L975.5 790.2 L976.7 789.1 L977.9 787.8 L979 786.4 L980.1 785.1 L981.2 783.4 L982.3 781.4 L983.3 779.4 L984.3 777.2 L985.2 775.1 L986.1 773.1 L986.8 771.3 L987.3 769.5 L987.9 767.8 L988.5 766.1 L989.2 764.5 L990.1 763.1 L991.2 761.7 L992.5 760.3 L993.9 759 L995.3 758 L996.7 757.3 L998.1 757.1 L999.5 757.5 L1000.9 758.5 L1002.3 759.9 L1003.6 761.5 L1004.9 763.3 L1006.1 765.1 L1007.3 767.4 L1008.4 770 L1009.3 772.7 L1010.2 775.6 L1011.1 778.4 L1012.1 781.1 L1013.1 783.5 L1014 785.9 L1015 788.2 L1016 790.6 L1017.1 792.8 L1018.1 795.1 L1019 797.2 L1020 799.4 L1021 801.5 L1022 803.5 L1023 805.4 L1024.1 807.1 L1025 808.4 L1026 809.8 L1027 811.1 L1028 812.1 L1029.1 812.9 L1030.1 813.1 L1031.3 812.7 L1032.5 811.7 L1033.7 810.3 L1034.9 808.6 L1036.1 806.8 L1037.1 805.1 L1038.2 803.1 L1039.1 801.1 L1039.9 798.8 L1040.7 796.5 L1041.4 793.9 L1042.1 791.1 L1043.1 786 L1044 780.2 L1044.8 773.9 L1045.6 767.4 L1046.3 761 L1047.1 755.1 L1047.7 750.1 L1048.3 745.2 L1048.8 740.5 L1049.4 735.8 L1050.2 731.3 L1051.1 727.1 L1052.1 723.2 L1053.1 719 L1054.3 715 L1055.6 711.5 L1056.8 709 L1058.1 708 L1059.3 708.6 L1060.5 710.2 L1061.8 712.5 L1063 715.3 L1064.1 718.2 L1065.1 721.1 L1066.2 725 L1067 729.4 L1067.6 734.1 L1068.1 739 L1068.6 744.1 L1069.1 749.1 L1069.7 754.8 L1070.2 760.9 L1070.7 767 L1071.2 773.2 L1071.6 779.2 L1072.1 785.1 L1072.6 790.2 L1073.1 795.3 L1073.5 800.3 L1074 805.2 L1074.6 810.1 L1075.1 815.1 L1075.7 820.1 L1076.4 825.1 L1077.1 830.1 L1077.8 835.1 L1078.4 840.1 L1079.1 845.1 L1079.8 850.2 L1080.4 855.2 L1081.1 860.3 L1081.8 865.4 L1082.4 870.3 L1083.1 875.1 L1083.7 879.5 L1084.3 884 L1084.8 888.4 L1085.5 892.5 L1086.2 896.1 L1087.1 899.1 L1087.7 900.5 L1088.3 901.9 L1088.9 903.1 L1089.6 904 L1090.3 904.8 L1091.1 905.1 L1092.2 905.2 L1093.4 904.8 L1094.7 904.2 L1095.9 903.4 L1097.1 902.3 L1098.1 901.1 L1099.3 898.8 L1100.1 895.9 L1100.7 892.5 L1101.2 888.8 L1101.6 884.9 L1102.1 881.1 L1102.9 876.3 L1103.6 871.1 L1104.3 865.7 L1104.9 860.2 L1105.5 854.6 L1106.1 849.1 L1106.6 843.3 L1107 837.2 L1107.3 831.1 L1107.7 825.1 L1108.3 819.7 L1109.1 815.1 L1109.8 812.5 L1110.5 809.8 L1111.2 807.4 L1112.1 805.4 L1113 803.9 L1114.1 803.1 L1115.3 803.2 L1116.6 803.8 L1118.1 804.9 L1119.5 806.2 L1120.9 807.7 L1122.1 809.1 L1123.5 810.8 L1124.8 812.6 L1125.9 814.7 L1127.1 816.8 L1128.1 819 L1129.1 821.1 L1130.1 823.3 L1131 825.6 L1131.8 827.8 L1132.6 830.2 L1133.3 832.6 L1134.2 835.1 L1135.1 838.3 L1136.1 841.7 L1137.1 845.2 L1138.1 848.7 L1139.1 852.1 L1140.2 855.1 L1141 857.3 L1141.8 859.5 L1142.6 861.5 L1143.4 863.5 L1144.3 865.3 L1145.2 867.1 L1146 868.8 L1146.8 870.6 L1147.7 872.3 L1148.6 873.8 L1149.4 874.8 L1150.2 875.1 L1150.9 874.6 L1151.6 873.4 L1152.3 871.6 L1152.9 869.5 L1153.5 867.2 L1154.2 865.1 L1155 862.2 L1155.8 858.9 L1156.6 855.4 L1157.4 851.9 L1158.2 848.4 L1159.2 845.1 L1160 842.2 L1160.9 839.4 L1161.8 836.5 L1162.7 833.8 L1163.9 831.3 L1165.2 829.1 L1166.5 827.5 L1167.9 826.1 L1169.5 824.9 L1171.1 823.7 L1172.7 822.5 L1174.2 821.1 L1175.6 819.5 L1176.9 817.8 L1178.2 816.1 L1179.5 814.4 L1180.8 812.7 L1182.2 811.1 L1183.5 809.6 L1184.8 808.1 L1186.1 806.6 L1187.4 805.3 L1188.8 804.1 L1190.2 803.1 L1191.5 802.5 L1193 802 L1194.5 801.6 L1195.9 801.4 L1197.2 801.2 L1198.2 801.1 L1198.5 801.1 L1198.8 801.1 L1199.1 801.1 L1199.3 801.1 L1199.6 801.1 L1200 801.1 L1201 801 L1202.4 800.9 L1203.9 800.6 L1205.4 800.3 L1206.8 799.8 L1208 799.1 L1209.1 797.9 L1210 796.4 L1210.8 794.6 L1211.5 792.7 L1212.2 790.9 L1213 789.1 L1213.8 787.2 L1214.5 785.1 L1215.3 783 L1216.1 781.2 L1217 779.8 L1218 779.1 L1219.2 779.2 L1220.6 779.8 L1222 780.8 L1223.4 782.1 L1224.8 783.6 L1226 785.1 L1227.3 787.2 L1228.4 789.6 L1229.4 792.3 L1230.3 795.1 L1231.1 798.1 L1232 801.1 L1233.1 804.8 L1234.1 808.8 L1235.1 812.8 L1236 817 L1237 821.1 L1238 825.1 L1239 828.9 L1239.9 832.8 L1240.8 836.6 L1241.8 840.4 L1242.8 843.9 L1244 847.1 L1245.1 849.7 L1246.3 852.4 L1247.6 855 L1248.9 857.2 L1250 858.7 L1251 859.1 L1252.1 857.8 L1252.9 854.7 L1253.5 850.4 L1254 845.3 L1254.5 840 L1255 835.1 L1255.7 829 L1256.2 822.4 L1256.7 815.5 L1257.1 808.6 L1257.5 801.7 L1258 795.1 L1258.4 789 L1258.5 782.6 L1258.7 776.3 L1259 770.4 L1259.7 765.2 L1261 761.1 L1262.1 759.1 L1263.3 757.2 L1264.7 755.6 L1266.1 754.3 L1267.6 753.4 L1269 753.1 L1270.5 753.4 L1272.2 754.2 L1273.8 755.6 L1275.3 757.3 L1276.8 759.1 L1278 761.1 L1279.4 764.1 L1280.5 767.7 L1281.2 771.8 L1281.8 776.1 L1282.4 780.5 L1283 785.1 L1283.9 791.2 L1284.5 797.7 L1285.2 804.4 L1285.7 811.4 L1286.4 818.3 L1287 825.1 L1287.8 831.9 L1288.6 838.8 L1289.4 845.7 L1290.2 852.4 L1291.1 859 L1292 865.1 L1292.8 870 L1293.4 874.9 L1294.1 879.6 L1294.9 884 L1295.8 887.9 L1297.1 891.1 L1297.9 892.8 L1298.9 894.5 L1299.9 896 L1301 897.1 L1302.1 897.9 L1303.1 898.1 L1304.1 897.7 L1305.2 896.6 L1306.2 895.1 L1307.2 893.2 L1308.2 891.2 L1309.1 889.1 L1310.2 886 L1311.2 882.4 L1312 878.5 L1312.7 874.3 L1313.4 869.8 L1314.1 865.1 L1315 857.9 L1315.7 849.8 L1316.4 841.3 L1316.9 832.5 L1317.5 823.7 L1318.1 815.1 L1318.6 806.6 L1319.1 798 L1319.5 789.4 L1319.9 780.9 L1320.4 772.8 L1321.1 765.1 L1321.6 759.2 L1322 753.4 L1322.6 747.8 L1323.2 742.5 L1324 737.6 L1325.1 733.1 L1326 729.9 L1327.1 726.6 L1328.2 723.4 L1329.4 720.8 L1330.7 718.9 L1332.1 718 L1333.2 718.2 L1334.4 718.9 L1335.7 720.1 L1337 721.6 L1338.1 723.3 L1339.1 725.1 L1340.1 728.1 L1340.8 731.8 L1341.1 736 L1341.4 740.4 L1341.6 744.8 L1342.1 749.1 L1342.6 753.4 L1343.2 758 L1343.7 762.6 L1344.4 767 L1345.1 771.2 L1346.1 775.1 L1346.9 778 L1347.8 781.1 L1348.8 784 L1349.8 786.5 L1350.9 788.3 L1352.1 789.1 L1353 788.9 L1354 788.2 L1355.1 787.2 L1356.1 785.8 L1357.1 784.4 L1358.1 783.1 L1359.2 781.3 L1360.1 779.2 L1361 776.9 L1362 774.7 L1363 772.7 L1364.1 771.1 L1365 770.1 L1365.9 769.2 L1366.9 768.4 L1368 767.7 L1369 767.3 L1370.1 767.1 L1371.4 767.2 L1372.7 767.6 L1374.1 768.3 L1375.5 769.1 L1376.8 770.1 L1378.1 771.1 L1379.6 772.4 L1381 773.9 L1382.4 775.5 L1383.7 777.3 L1384.9 779.1 L1386.1 781.1 L1387.3 783.5 L1388.2 786.2 L1389.1 789 L1390 791.8 L1390.9 794.6 L1392.1 797.1 L1393.4 799.5 L1394.9 802.2 L1396.4 804.7 L1398 806.9 L1399.6 808.5 L1401.1 809.1 L1402.3 808.8 L1403.6 807.9 L1404.8 806.5 L1406 804.8 L1407.1 803 L1408.1 801.1 L1409.4 797.9 L1410.5 794.2 L1411.5 790.1 L1412.4 785.8 L1413.2 781.4 L1414.1 777.1 L1415.1 772.5 L1416.1 767.8 L1417.1 763 L1418.1 758.2 L1419.1 753.6 L1420.1 749.1 L1421.1 745.1 L1422 741.1 L1423 737.2 L1424 733.5 L1425 730.1 L1426.1 727.1 L1426.9 725.1 L1427.8 723 L1428.6 721.1 L1429.5 719.5 L1430.3 718.4 L1431.1 718 L1432.1 719 L1433 721.5 L1433.8 725 L1434.6 729 L1435.4 733.2 L1436.1 737.1 L1437.1 741.9 L1437.9 747.1 L1438.7 752.6 L1439.5 758.2 L1440.3 763.7 L1441.1 769.1 L1441.9 774.2 L1442.7 779.2 L1443.5 784.3 L1444.4 789.3 L1445.2 794.2 L1446.1 799.1 L1447 803.7 L1448 808.3 L1449 812.8 L1450 817.2 L1451.1 821.3 L1452.1 825.1 L1452.9 827.8 L1453.7 830.7 L1454.5 833.5 L1455.3 835.8 L1456.2 837.5 L1457.1 838.1 L1458.2 837.6 L1459.4 836 L1460.7 833.6 L1461.9 830.8 L1463.1 827.9 L1464.1 825.1 L1465.4 821.4 L1466.5 817.4 L1467.4 813 L1468.4 808.5 L1469.2 803.8 L1470.1 799.1 L1471.2 793.2 L1472.2 786.9 L1473.2 780.5 L1474.2 773.9 L1475.2 767.4 L1476.1 761.1 L1477.1 754.9 L1478 748.5 L1479 742.1 L1479.9 736 L1481 730.2 L1482.2 725.1 L1483.1 721.4 L1484 717.7 L1485 714.1 L1486 711 L1487.1 708.9 L1488.2 708 L1489.1 708.5 L1490.2 709.8 L1491.2 711.7 L1492.3 714.1 L1493.3 716.6 L1494.2 719.1 L1495.3 723.1 L1496.4 727.7 L1497.2 732.7 L1498 738 L1498.7 743.5 L1499.4 749.1 L1500.2 756.1 L1500.8 763.4 L1501.3 771.1 L1501.8 778.9 L1502.4 787 L1503 795.1 L1503.9 804.8 L1504.8 815 L1505.8 825.5 L1506.8 835.8 L1507.9 845.8 L1509 855.1 L1509.9 862.3 L1510.8 869.4 L1511.7 876.3 L1512.7 882.7 L1513.8 888.4 L1515 893.1 L1515.8 895.5 L1516.6 897.7 L1517.4 899.8 L1518.2 901.5 L1519.1 902.7 L1520 903.1 L1521 902.8 L1522 901.6 L1523.1 899.9 L1524.2 897.8 L1525.2 895.5 L1526 893.1 L1527.2 888.3 L1528 882.4 L1528.6 875.8 L1529.1 868.8 L1529.5 861.8 L1530 855.1 L1530.6 848.4 L1531 841.5 L1531.4 834.5 L1531.9 827.7 L1532.4 821.2 L1533 815.1 L1533.5 810.2 L1534 805 L1534.5 799.9 L1535.2 795.5 L1536 792.4 L1537 791.1 L1538.1 791.6 L1539.4 793.3 L1540.9 795.8 L1542.3 798.8 L1543.8 802 L1545 805.1 L1546.6 809.4 L1548 814.2 L1549.4 819.3 L1550.6 824.6 L1551.9 830 L1553 835.1 L1554.1 840.1 L1555.2 845.1 L1556.2 850.1 L1557.1 855.1 L1558.1 860.1 L1559 865.1 L1560 870.3 L1561 875.6 L1561.9 880.9 L1562.9 886.1 L1563.9 890.9 L1565 895.1 L1565.8 897.9 L1566.5 900.7 L1567.2 903.3 L1568 905.6 L1568.9 907.3 L1570 908.2 L1571.2 908.2 L1572.6 907.8 L1574.1 907 L1575.5 905.9 L1576.9 904.6 L1578 903.1 L1579.5 900 L1580.6 895.8 L1581.3 891 L1581.9 885.8 L1582.4 880.4 L1583 875.1 L1583.8 868.8 L1584.4 861.9 L1584.9 854.9 L1585.5 847.9 L1586.2 841.3 L1587 835.1 L1587.9 830.6 L1588.7 826.2 L1589.7 822 L1590.7 818 L1591.8 814.4 L1593.1 811.1 L1593.9 809.1 L1594.8 807.2 L1595.7 805.4 L1596.8 803.8 L1597.8 802.4 L1599.1 801.1 L1600.2 800.1 L1601.5 799.1 L1602.9 798.2 L1604.3 797.6 L1605.7 797.2 L1607.1 797.1 L1608.5 797.4 L1609.9 798.1 L1611.3 799.1 L1612.6 800.3 L1613.9 801.7 L1615.1 803.1 L1616.3 805 L1617.4 807.2 L1618.3 809.6 L1619.2 812.1 L1620.1 814.6 L1621.1 817.1 L1622.2 819.8 L1623.2 822.5 L1624.3 825.3 L1625.5 828 L1626.7 830.7 L1628.1 833.1 L1629.5 835.4 L1631 837.9 L1632.6 840.3 L1634.2 842.3 L1635.7 843.7 L1637.1 844.1 L1638.2 843.5 L1639.3 842.1 L1640.3 840.1 L1641.3 837.8 L1642.2 835.4 L1643.1 833.1 L1644.1 830.4 L1644.9 827.4 L1645.7 824.3 L1646.5 821.1 L1647.2 818 L1648.1 815.1 L1648.9 812.6 L1649.6 810.2 L1650.4 807.8 L1651.3 805.5 L1652.1 803.2 L1653.1 801.1 L1654 799.3 L1654.9 797.5 L1655.9 795.8 L1656.9 794.2 L1658 792.6 L1659.1 791.1 L1660.2 789.5 L1661.3 787.7 L1662.5 786 L1663.7 784.5 L1664.9 783.5 L1666.1 783.1 L1667.3 783.5 L1668.5 784.4 L1669.7 785.9 L1670.9 787.6 L1672 789.4 L1673.1 791.1 L1674.3 793.1 L1675.3 795.3 L1676.3 797.6 L1677.3 800 L1678.2 802.5 L1679.1 805.1 L1680.2 808.2 L1681.2 811.5 L1682.2 814.9 L1683.1 818.4 L1684.1 821.8 L1685.1 825.1 L1686.1 828.2 L1687.1 831.4 L1688 834.5 L1689.1 837.6 L1690.1 840.5 L1691.1 843.1 L1691.9 845.2 L1692.8 847.5 L1693.6 849.6 L1694.5 851.4 L1695.3 852.7 L1696.1 853.1 L1697 852.5 L1697.9 851.1 L1698.7 848.9 L1699.5 846.4 L1700.4 843.7 L1701.1 841.1 L1702.1 837.5 L1703 833.5 L1703.9 829.3 L1704.7 824.8 L1705.4 820.1 L1706.1 815.1 L1707 807.6 L1707.7 799.2 L1708.3 790.4 L1708.8 781.5 L1709.4 773 L1710.1 765.1 L1710.6 759.1 L1710.9 753.1 L1711.3 747.4 L1711.9 742 L1712.7 737.1 L1714.1 733.1 L1715.3 730.7 L1716.8 728.4 L1718.3 726.3 L1720 724.6 L1721.6 723.5 L1723.1 723.1 L1724.5 723.4 L1726 724.3 L1727.4 725.6 L1728.8 727.3 L1730 729.1 L1731.1 731.1 L1732.3 734.2 L1733.2 737.8 L1733.7 741.9 L1734.2 746.2 L1734.6 750.7 L1735.1 755.1 L1735.8 760.6 L1736.3 766.7 L1736.8 773 L1737.4 779.1 L1738.1 784.6 L1739.1 789.1 L1739.8 791.4 L1740.5 793.6 L1741.3 795.6 L1742.2 797.3 L1743.1 798.5 L1744.1 799.1 L1745.2 799 L1746.3 798.4 L1747.6 797.3 L1748.8 796 L1750 794.6 L1751.1 793.1 L1752.7 790.5 L1754.1 787.5 L1755.5 784 L1756.8 780.4 L1758 776.7 L1759.1 773.1 L1760.3 769.3 L1761.4 765.4 L1762.4 761.5 L1763.3 757.5 L1764.2 753.4 L1765.1 749.1 L1766.1 743.5 L1767 737.4 L1767.8 731.2 L1768.7 725.1 L1769.8 719.6 L1771.1 715 L1772.2 712.5 L1773.3 710 L1774.5 707.7 L1775.7 705.9 L1776.9 704.6 L1778.2 704 L1779.3 704.4 L1780.6 705.4 L1781.8 707 L1783 708.9 L1784.2 711 L1785.2 713 L1786.4 716.3 L1787.3 720.1 L1788 724.3 L1788.7 728.6 L1789.4 732.9 L1790.2 737.1 L1790.9 741.4 L1791.5 746.1 L1792.1 750.7 L1792.8 755 L1793.8 758.6 L1795.2 761.1 L1796 761.9 L1797 762.4 L1798 762.8 L1799 763 L1800.1 763.1 L1801.2 763.1 L1802.5 762.8 L1803.8 762.1 L1805.2 761.3 L1806.5 760.4 L1807.9 759.6 L1809.2 759.1 L1810.3 758.8 L1811.7 758.5 L1813 758.3 L1814.1 758.2 L1814.9 758.1 L1815.2 758.1" stroke="#000" stroke-width="6.7"/>
<path d="M154 791.5 L154.4 788.6 L155.5 781.2 L157 770.7 L158.8 758.8 L160.5 747.1 L162 737.1 L163.2 729.4 L164.3 721.9 L165.5 714.5 L166.6 707.2 L167.8 700.1 L169 693 L170.1 686.6 L171.2 679.9 L172.3 673.4 L173.5 667.2 L174.7 661.6 L176 657 L176.8 654.7 L177.6 652.5 L178.4 650.4 L179.2 648.7 L180.1 647.5 L181 647 L182 647.3 L183 648.3 L184.1 649.7 L185.1 651.4 L186.1 653.3 L187 655 L188.1 657.3 L189 659.8 L189.8 662.5 L190.6 665.4 L191.3 668.2 L192 671 L192.7 673.9 L193.4 676.9 L194 679.8 L194.6 682.8 L195.1 685.9 L195.6 689 L196.1 692.6 L196.5 696.3 L196.9 700.1 L197.2 703.9 L197.6 707.6 L198 711 L198.5 713.9 L199 716.6 L199.5 719.2 L200.1 721.8 L200.6 724.4 L201 727.1 L201.4 729.7 L201.7 732.3 L202 734.9 L202.4 737.6 L202.7 740.3 L203 743.1 L203.5 746.3 L203.9 749.6 L204.4 752.9 L204.9 756.3 L205.5 759.7 L206 763.1 L206.6 766.5 L207.2 769.9 L207.8 773.3 L208.4 776.7 L209.2 780 L210 783.1 L210.8 785.9 L211.7 788.9 L212.6 791.8 L213.6 794.3 L214.8 796.2 L216 797.1 L217.2 797 L218.6 796.4 L220 795.3 L221.5 794 L222.8 792.5 L224 791.1 L225.2 789.4 L226.2 787.4 L227.1 785.3 L228 783.2 L229 781 L230 779.1 L231.3 777.1 L232.6 774.9 L234.1 772.7 L235.5 770.8 L236.8 769.5 L238 769.1 L239 769.5 L239.9 770.5 L240.7 771.9 L241.5 773.6 L242.3 775.3 L243 777.1 L244 779.6 L244.9 782.5 L245.7 785.5 L246.5 788.7 L247.3 791.9 L248.1 795.1 L248.9 798.3 L249.8 801.6 L250.7 804.9 L251.5 808.2 L252.3 811.6 L253.1 815.1 L253.7 819.2 L254.1 823.6 L254.5 828.1 L255 832.4 L255.8 836.5 L257.1 840.1 L258.5 842.6 L260.3 844.8 L262.3 846.8 L264.3 848.7 L266.3 850.8 L268.1 853.1 L269.9 856.2 L271.6 859.4 L273.2 862.9 L274.8 866.4 L276.4 869.8 L278.1 873.1 L279.7 876.2 L281.5 879.4 L283.2 882.4 L284.9 885.4 L286.6 888.4 L288.1 891.1 L289.1 893.4 L290.1 895.6 L291 897.8 L291.9 899.8 L292.9 901.6 L294.1 903.1 L295.2 904.2 L296.3 905.3 L297.6 906.2 L298.8 906.9 L300 907.3 L301.1 907.2 L302.6 905.5 L303.8 902.4 L304.9 898.2 L305.8 893.6 L306.9 889.1 L308.1 885.1 L309.3 882 L310.6 878.9 L311.9 875.9 L313.2 872.9 L314.6 870 L316.1 867.1 L317.6 864 L319.2 860.5 L320.9 857 L322.6 854 L324.3 851.9 L326.1 851.1 L328 852.1 L329.9 854.6 L331.9 858.2 L333.9 862.2 L336 866 L338.1 869.1 L340 871.5 L342.1 874 L344.2 876.3 L346.3 878.3 L348.3 879.7 L350.1 880.1 L351.6 879.7 L353.1 878.5 L354.5 876.9 L355.8 875 L357 873 L358.1 871.1 L359.1 869 L359.8 866.8 L360.3 864.4 L360.8 862 L361.4 859.5 L362.1 857.1 L363 854.6 L363.8 852 L364.8 849.3 L365.8 846.8 L366.9 844.3 L368.1 842.1 L369.3 840.4 L370.5 838.8 L371.9 837.3 L373.2 835.9 L374.7 834.5 L376.1 833.1 L377.7 831.5 L379.4 829.7 L381.1 827.9 L382.8 826.3 L384.5 825.3 L386.1 825.1 L387.9 826.3 L389.5 828.8 L391.1 831.9 L392.7 835.2 L394.3 837.8 L396.1 839.1 L397.7 839.2 L399.4 838.8 L401.2 838 L402.9 836.9 L404.6 835.5 L406.1 834.1 L408.1 831.8 L409.9 828.9 L411.5 825.5 L413.1 822 L414.6 818.5 L416.1 815.1 L417.6 811.7 L418.9 808.1 L420.2 804.5 L421.5 801.1 L422.8 797.9 L424.1 795.1 L425.1 793.5 L426 792.1 L427 790.7 L427.9 789.5 L429 788.3 L430.1 787.1 L431.6 785.6 L433.1 784.1 L434.8 782.6 L436.5 781.3 L438.3 780.1 L440.2 779.1 L442 778.5 L444 778.2 L446.1 778.1 L448.2 778 L450.2 777.7 L452.2 777.1 L454.3 776 L456.4 774.7 L458.4 773.2 L460.4 771.6 L462.3 769.9 L464.2 768.1 L466 766.2 L467.7 764.2 L469.3 762 L470.9 759.8 L472.5 757.5 L474.2 755.1 L476.5 751.7 L478.9 748.1 L481.4 744.4 L483.8 740.5 L486.1 736.7 L488.2 733.1 L489.8 730 L491.3 727 L492.7 724.1 L494 721.1 L495.1 718.1 L496.2 715 L497 711.8 L497.7 708.4 L498.2 705 L498.7 701.6 L499.2 698.2 L500 695 L500.8 692.2 L501.7 689.5 L502.7 686.8 L503.8 684.2 L504.9 681.6 L506 679 L507.2 676.2 L508.3 673.2 L509.5 670.2 L510.8 667.5 L512.3 665.3 L514 664 L515.6 663.7 L517.4 663.9 L519.3 664.4 L521.2 665.3 L523.2 666.2 L525 667 L526.9 668 L528.7 669.1 L530.5 670.3 L532.3 671.6 L534.1 672.9 L536 674 L538 675.2 L539.9 676.6 L541.9 677.8 L543.9 679 L546 679.7 L548 680 L550.4 679.4 L552.8 678 L555.3 676.1 L557.7 674.4 L560 673.2 L562 673 L563.8 674.1 L565.4 676.1 L566.8 678.8 L568.2 681.7 L569.6 684.5 L571 687 L572.6 689.1 L574.2 691.1 L575.8 693 L577.4 695 L578.8 697 L580 699 L580.9 701 L581.5 703 L582.1 705 L582.6 707 L583.2 709 L584 711 L585.3 713.4 L586.8 715.7 L588.5 718.1 L590.1 720.4 L591.7 722.7 L593 725.1 L594 727.1 L594.9 729.2 L595.6 731.3 L596.3 733.3 L597.1 735.2 L598.1 737.1 L599 738.5 L600 739.7 L601 740.9 L602.1 742.2 L603.1 743.5 L604.1 745.1 L605.2 747.6 L606.1 750.6 L607 753.8 L607.9 757.1 L608.9 760.2 L610.1 763.1 L611.3 765.3 L612.6 767.4 L614 769.4 L615.4 771.3 L616.8 773.2 L618.1 775.1 L619.1 776.8 L620 778.4 L620.9 780.1 L621.9 781.7 L622.9 783.4 L624.1 785.1 L625.8 787.4 L627.7 789.8 L629.8 792.3 L631.9 794.7 L634 797 L636.1 799.1 L637.7 800.7 L639.3 802.3 L640.9 803.8 L642.6 805.2 L644.3 806.3 L646.1 807.1 L648 807.4 L650 807.4 L652 807.1 L654.1 806.8 L656.1 806.7 L658.1 807.1 L660.2 808.1 L662.4 809.5 L664.4 811.3 L666.4 813.2 L668.3 815.2 L670.1 817.1 L671.6 819 L673 821 L674.2 823.1 L675.4 825.2 L676.7 827.2 L678.1 829.1 L679.5 830.7 L681 832.2 L682.5 833.6 L684 835 L685.6 836.5 L687.1 838.1 L689 840.4 L690.9 842.8 L692.9 845.4 L694.7 848 L696.5 850.6 L698.1 853.1 L699.3 855.2 L700.4 857.2 L701.5 859.2 L702.4 861.2 L703.3 863.2 L704.1 865.1 L704.7 866.8 L705.2 868.4 L705.7 870 L706.1 871.6 L706.6 873.3 L707.1 875.1 L707.9 877.9 L708.6 880.9 L709.4 884.1 L710.2 887.3 L711.1 890.3 L712.1 893.1 L713 895.4 L714 897.5 L715 899.5 L716 901.5 L717 903.4 L718.1 905.1 L719.1 906.8 L720.1 908.6 L721.1 910.4 L722.2 911.9 L723.2 912.8 L724.1 913.2 L725.2 912.4 L726.3 910.5 L727.3 907.8 L728.3 904.8 L729.3 901.8 L730.1 899.1 L730.9 896.8 L731.6 894.5 L732.3 892.2 L732.9 889.8 L733.5 887.5 L734.1 885.1 L734.7 882.8 L735.1 880.5 L735.6 878.2 L736 875.9 L736.5 873.6 L737.1 871.1 L738 868.1 L738.9 864.8 L740 861.4 L741 858.2 L742.1 855.4 L743.1 853.1 L743.6 852.2 L744 851.3 L744.4 850.5 L744.9 849.8 L745.4 849.4 L746.1 849.1 L747.8 849.5 L750 850.8 L752.4 852.8 L755 855.1 L757.7 857.3 L760.1 859.1 L762.5 860.8 L765 862.6 L767.5 864.4 L770 865.9 L772.2 866.9 L774.1 867.1 L775.4 866.8 L776.6 866 L777.6 865 L778.6 863.8 L779.4 862.5 L780.1 861.1 L780.8 859.2 L781.2 857 L781.3 854.5 L781.4 852 L781.7 849.5 L782.2 847.1 L782.8 844.6 L783.6 841.8 L784.4 839.1 L785.4 836.6 L786.6 834.5 L788.2 833.1 L789.8 832.5 L791.8 832.5 L793.9 832.7 L796.1 833.2 L798.2 833.7 L800.2 834.1 L801.8 834.3 L803.3 834.6 L804.8 834.8 L806.3 835.1 L807.7 835.5 L809.2 836.1 L810.8 837.2 L812.4 838.7 L813.9 840.4 L815.4 841.8 L816.9 842.9 L818.2 843.1 L819.4 842.5 L820.4 841.3 L821.4 839.6 L822.3 837.6 L823.2 835.4 L824.2 833.1 L825.8 828.8 L827.5 823.6 L829.1 817.9 L830.7 812 L832.4 806.3 L834.2 801.1 L835.7 796.9 L837.3 792.5 L839 788.3 L840.6 784.5 L842.4 781.3 L844.2 779.1 L845.1 778.4 L846.1 778 L847.1 777.7 L848 777.5 L849 777.3 L850 777.1 L851 776.7 L852 776.2 L853 775.6 L854 775.2 L855 775 L856 775.1 L857.6 776 L859.2 777.9 L860.9 780.1 L862.6 782.4 L864.3 784.2 L866 785.1 L867.5 785.1 L869.1 784.8 L870.7 784.2 L872.2 783.3 L873.7 782.3 L875 781.1 L876.5 779.1 L877.8 776.6 L879 773.7 L880 770.7 L881 767.8 L882 765.1 L882.9 763 L883.8 760.9 L884.6 759 L885.4 757 L886.2 755.1 L887 753.1 L887.8 751.1 L888.6 749.1 L889.3 747.1 L890.1 745.2 L891 743.1 L892 741.1 L893.5 738.5 L895.2 735.8 L897 733.1 L898.8 730.4 L900.5 727.7 L902 725.1 L903.2 722.7 L904.3 720.3 L905.3 717.9 L906.2 715.5 L907.1 713.2 L908 711 L908.7 709.3 L909.4 707.7 L910.1 706.1 L910.7 704.5 L911.4 702.9 L912 701 L913 698.3 L914 695.2 L915 692 L916 688.8 L917.1 685.7 L918 683 L918.7 681.3 L919.2 679.7 L919.7 678.1 L920.3 676.7 L921.1 675.3 L922 674 L923.4 672.6 L925 671.2 L926.7 669.9 L928.5 668.8 L930.3 668.2 L932 668 L933.8 668.7 L935.4 670.1 L937.1 671.9 L938.7 673.9 L940.4 675.7 L942 677 L943.4 677.8 L944.7 678.5 L946 679.1 L947.4 679.5 L948.7 679.9 L950.1 680 L951.4 680 L952.7 679.8 L954.1 679.5 L955.4 679.1 L956.8 678.6 L958.1 678 L959.4 677.3 L960.8 676.4 L962.1 675.4 L963.4 674.4 L964.7 673.2 L966.1 672 L967.7 670.3 L969.4 668.4 L971.1 666.3 L972.7 664.2 L974.4 662.4 L976.1 661 L977.2 660.2 L978.4 659.4 L979.6 658.8 L980.8 658.3 L981.9 658 L983.1 658 L984.3 658.3 L985.5 658.9 L986.7 659.7 L987.9 660.7 L989 661.9 L990.1 663 L991.3 664.7 L992.3 666.5 L993.3 668.6 L994.2 670.8 L995.1 673 L996.1 675 L997.1 677 L998.1 678.9 L999.1 680.9 L1000.1 682.8 L1001.1 684.9 L1002.1 687 L1003.2 689.8 L1004.2 692.7 L1005.2 695.7 L1006.1 698.8 L1007.1 701.9 L1008.1 705 L1009.1 708.4 L1010.1 711.8 L1011 715.2 L1012 718.6 L1013 721.9 L1014.1 725.1 L1015 727.6 L1016 729.9 L1017 732.2 L1018.1 734.5 L1019.1 736.8 L1020.1 739.1 L1021.1 741.4 L1022.1 743.8 L1023.1 746.1 L1024.1 748.5 L1025.1 750.8 L1026.1 753.1 L1027.1 755.1 L1028.1 757.1 L1029.2 759.1 L1030.2 761.1 L1031.2 763.1 L1032.1 765.1 L1032.8 767.1 L1033.5 769.1 L1034.1 771.2 L1034.7 773.2 L1035.3 775.2 L1036.1 777.1 L1036.9 778.8 L1037.8 780.6 L1038.7 782.3 L1039.7 783.9 L1040.8 785.5 L1042.1 787.1 L1043.8 788.9 L1045.7 790.6 L1047.7 792.3 L1049.9 793.9 L1052 795.5 L1054.1 797.1 L1056.1 798.5 L1058 800 L1060 801.3 L1062 802.6 L1064 803.9 L1066.1 805.1 L1068.4 806.2 L1070.7 807.2 L1073.1 808.2 L1075.5 809.2 L1077.8 810.1 L1080.1 811.1 L1082.2 812 L1084.3 812.9 L1086.3 813.8 L1088.3 814.8 L1090.3 815.9 L1092.1 817.1 L1094 818.5 L1095.7 820.1 L1097.4 821.7 L1099 823.5 L1100.6 825.3 L1102.1 827.1 L1103.6 829 L1105 830.9 L1106.3 833 L1107.6 835 L1108.8 837.1 L1110.1 839.1 L1111.5 841.2 L1112.9 843.3 L1114.3 845.5 L1115.6 847.6 L1116.9 849.9 L1118.1 852.1 L1119.3 854.5 L1120.3 857 L1121.3 859.6 L1122.2 862.1 L1123.2 864.6 L1124.1 867.1 L1125.2 869.5 L1126.2 871.9 L1127.3 874.3 L1128.3 876.6 L1129.3 878.9 L1130.1 881.1 L1130.8 883 L1131.3 884.8 L1131.8 886.6 L1132.2 888.4 L1132.7 890.3 L1133.2 892.1 L1133.6 894.2 L1134.1 896.4 L1134.5 898.6 L1135 900.8 L1135.5 903 L1136.2 905.1 L1137 907.6 L1137.9 910.5 L1139 913.3 L1140 915.8 L1141.1 917.5 L1142.2 918.2 L1143.2 917.5 L1144.2 915.8 L1145.3 913.3 L1146.3 910.5 L1147.3 907.7 L1148.2 905.1 L1148.9 902.9 L1149.6 900.5 L1150.3 898.2 L1150.9 895.8 L1151.5 893.5 L1152.2 891.1 L1152.8 888.8 L1153.5 886.5 L1154.2 884.1 L1154.8 881.8 L1155.5 879.5 L1156.2 877.1 L1156.8 874.8 L1157.4 872.4 L1158 869.9 L1158.6 867.6 L1159.3 865.3 L1160.2 863.1 L1161 861.3 L1161.8 859.5 L1162.7 857.7 L1163.7 856.1 L1164.9 854.5 L1166.2 853.1 L1167.9 851.6 L1169.9 850.1 L1172.1 848.7 L1174.3 847.6 L1176.4 847 L1178.2 847.1 L1179.8 848.2 L1181.3 850.2 L1182.6 852.8 L1183.8 855.6 L1185 858.5 L1186.2 861.1 L1187.2 863.7 L1188.2 866.7 L1189.1 869.7 L1190 872.3 L1191 874.3 L1192.2 875.1 L1193.4 874.9 L1194.7 873.9 L1196.1 872.5 L1197.5 870.7 L1198.8 868.8 L1200 867.1 L1201.2 865.3 L1202.2 863.4 L1203.2 861.4 L1204.1 859.3 L1205.1 857.2 L1206 855.1 L1207 852.9 L1208 850.5 L1209 848.2 L1210 845.8 L1211 843.5 L1212 841.1 L1213 838.8 L1213.9 836.4 L1214.9 834.1 L1215.9 831.7 L1216.9 829.4 L1218 827.1 L1219.2 824.7 L1220.4 822.2 L1221.7 819.7 L1223 817.4 L1224.5 815.1 L1226 813.1 L1227.5 811.5 L1229.2 810 L1230.9 808.6 L1232.7 807.4 L1234.4 806.2 L1236 805.1 L1237.2 804.3 L1238.3 803.5 L1239.4 802.8 L1240.5 802.1 L1241.7 801.5 L1243 801.1 L1245.2 800.9 L1247.8 801.1 L1250.5 801.4 L1253.2 801.7 L1255.8 801.7 L1258 801.1 L1260 799.8 L1261.7 797.9 L1263.2 795.6 L1264.7 793.3 L1266.3 791 L1268 789.1 L1269.9 787.5 L1271.9 786 L1274 784.6 L1276.1 783.3 L1278.1 782.1 L1280 781.1 L1281.4 780.5 L1282.8 780.1 L1284.2 779.7 L1285.5 779.4 L1286.8 778.9 L1288 778.1 L1289.8 776.5 L1291.5 774.4 L1293.2 772.1 L1294.8 769.7 L1296.5 767.3 L1298.1 765.1 L1299.4 763.3 L1300.8 761.6 L1302.1 760 L1303.4 758.4 L1304.7 756.7 L1306.1 755.1 L1307.4 753.5 L1308.8 751.9 L1310.2 750.4 L1311.5 748.7 L1312.8 747 L1314.1 745.1 L1315.6 742.2 L1316.9 739 L1318.2 735.6 L1319.5 732 L1320.8 728.5 L1322.1 725.1 L1323.4 721.7 L1324.8 718.4 L1326.2 715 L1327.5 711.7 L1328.8 708.3 L1330.1 705 L1331.1 702 L1332.1 698.8 L1333.1 695.7 L1334 692.7 L1335 689.8 L1336.1 687 L1337 684.8 L1337.9 682.6 L1338.8 680.4 L1339.8 678.4 L1340.8 676.6 L1342.1 675 L1343.2 673.8 L1344.5 672.7 L1345.8 671.6 L1347.2 670.8 L1348.6 670.2 L1350.1 670 L1351.9 670.4 L1353.9 671.3 L1355.9 672.6 L1358 674.2 L1360.1 675.7 L1362.1 677 L1364.1 678.3 L1366 679.6 L1367.9 680.9 L1369.9 682.1 L1371.9 683.2 L1374.1 684 L1376.6 684.5 L1379.4 684.5 L1382.2 684.3 L1385.1 684.2 L1387.7 684.4 L1390.1 685 L1392.1 686.2 L1393.9 687.6 L1395.5 689.4 L1397.1 691.2 L1398.6 693.2 L1400.1 695 L1401.6 696.9 L1403 698.9 L1404.3 700.9 L1405.6 703 L1406.9 705 L1408.1 707 L1409.2 709.1 L1410.2 711.3 L1411.2 713.5 L1412.3 715.6 L1413.6 717.5 L1415.1 719.1 L1417.2 720.1 L1419.7 720.6 L1422.4 720.9 L1425.2 721.2 L1427.8 721.8 L1430.1 723.1 L1432.6 725.7 L1434.7 729.2 L1436.6 733.2 L1438.4 737.4 L1440.2 741.5 L1442.1 745.1 L1443.8 747.6 L1445.6 750 L1447.3 752.3 L1449.1 754.6 L1450.7 756.8 L1452.1 759.1 L1453.3 761.1 L1454.2 763.1 L1455.1 765.1 L1456 767.2 L1457 769.1 L1458.1 771.1 L1459.6 773.1 L1461.2 775.1 L1462.9 777.1 L1464.7 779 L1466.5 781 L1468.1 783.1 L1469.9 785.4 L1471.6 787.8 L1473.3 790.2 L1475 792.7 L1476.6 795 L1478.1 797.1 L1479.2 798.5 L1480.2 799.9 L1481.2 801.1 L1482.2 802.4 L1483.1 803.7 L1484.2 805.1 L1485.5 807.1 L1486.8 809.4 L1488.3 811.8 L1489.6 814 L1491 815.9 L1492.2 817.1 L1492.6 817.4 L1493.1 817.6 L1493.5 817.8 L1493.9 817.8 L1494.4 817.9 L1495 818.1 L1496.3 818.5 L1497.9 818.8 L1499.7 819.2 L1501.5 819.7 L1503.3 820.3 L1505 821.1 L1506.8 822.4 L1508.5 823.9 L1510.1 825.6 L1511.8 827.5 L1513.4 829.3 L1515 831.1 L1516.7 832.9 L1518.4 834.7 L1520.2 836.5 L1521.8 838.3 L1523.5 840.2 L1525 842.1 L1526.5 844.2 L1527.9 846.3 L1529.3 848.5 L1530.6 850.7 L1531.9 852.9 L1533 855.1 L1534 857.1 L1534.9 859.1 L1535.7 861.1 L1536.5 863 L1537.2 865.1 L1538 867.1 L1538.9 869.4 L1539.8 871.7 L1540.6 874 L1541.5 876.3 L1542.3 878.7 L1543 881.1 L1543.7 883.7 L1544.4 886.4 L1545 889.2 L1545.6 891.9 L1546.2 894.5 L1547 897.1 L1547.9 899.8 L1548.7 902.6 L1549.6 905.3 L1550.6 907.8 L1551.8 909.8 L1553 911.2 L1554 911.6 L1555 911.9 L1556.1 912 L1557.2 911.9 L1558.2 911.7 L1559 911.2 L1560.1 909.6 L1560.9 907.2 L1561.5 904.2 L1561.9 901 L1562.4 897.9 L1563 895.1 L1563.7 893 L1564.4 891 L1565.1 889.1 L1565.8 887.2 L1566.4 885.2 L1567 883.1 L1567.6 880.9 L1568 878.5 L1568.5 876.1 L1568.9 873.7 L1569.4 871.4 L1570 869.1 L1570.7 867 L1571.5 864.8 L1572.3 862.6 L1573.2 860.5 L1574.1 858.7 L1575 857.1 L1575.7 856.2 L1576.3 855.3 L1576.9 854.5 L1577.5 853.8 L1578.2 853.3 L1579 853.1 L1580.4 853.4 L1582 854.5 L1583.8 855.9 L1585.6 857.5 L1587.4 859 L1589.1 860.1 L1590.4 860.9 L1591.7 861.6 L1593 862.3 L1594.4 862.8 L1595.7 863.1 L1597.1 863.1 L1598.8 862.8 L1600.6 862.1 L1602.4 861.1 L1604.1 859.9 L1605.7 858.6 L1607.1 857.1 L1608.1 855.5 L1608.9 853.6 L1609.5 851.6 L1610 849.4 L1610.5 847.2 L1611.1 845.1 L1611.6 842.7 L1612.1 840.1 L1612.5 837.4 L1613.1 834.9 L1613.9 832.7 L1615.1 831.1 L1616.4 830.3 L1618 830 L1619.8 829.9 L1621.6 829.8 L1623.4 829.6 L1625.1 829.1 L1626.8 828.1 L1628.5 826.8 L1630.2 825.4 L1631.9 823.9 L1633.5 822.4 L1635.1 821.1 L1636.5 820.1 L1637.9 819 L1639.2 818.1 L1640.6 817.1 L1641.8 816.1 L1643.1 815.1 L1644.1 814.1 L1645.1 813.2 L1646 812.2 L1647 811.2 L1648 810.1 L1649.1 809.1 L1650.6 807.7 L1652.2 806.1 L1653.8 804.5 L1655.6 803 L1657.3 801.8 L1659.1 801.1 L1660.7 801 L1662.3 801.4 L1664 802 L1665.6 802.7 L1667.4 803.1 L1669.1 803.1 L1671.4 802.5 L1673.7 801.4 L1676.1 800 L1678.5 798.4 L1680.9 796.7 L1683.1 795.1 L1685.2 793.5 L1687.3 791.9 L1689.4 790.2 L1691.4 788.5 L1693.3 786.7 L1695.1 785.1 L1696.6 783.8 L1698 782.5 L1699.3 781.3 L1700.6 780 L1701.9 778.6 L1703.1 777.1 L1704.6 775 L1706 772.8 L1707.3 770.4 L1708.6 768 L1709.9 765.5 L1711.1 763.1 L1712.2 760.7 L1713.1 758.3 L1714 755.9 L1715 753.5 L1716 751.2 L1717.1 749.1 L1718.3 747.2 L1719.6 745.5 L1721 743.9 L1722.4 742.3 L1723.8 740.7 L1725.1 739.1 L1726.5 737.4 L1727.9 735.8 L1729.3 734.2 L1730.6 732.6 L1731.9 730.9 L1733.1 729.1 L1734.3 726.9 L1735.3 724.6 L1736.3 722.3 L1737.2 719.8 L1738.2 717.4 L1739.1 715 L1740.1 712.7 L1741.1 710.4 L1742.1 708 L1743.1 705.7 L1744.1 703.4 L1745.1 701 L1746.2 698.7 L1747.2 696.4 L1748.3 694.1 L1749.3 691.7 L1750.2 689.4 L1751.1 687 L1751.8 684.6 L1752.4 682 L1752.9 679.4 L1753.5 677 L1754.2 674.8 L1755.1 673 L1756 672 L1756.9 671 L1757.9 670.2 L1759 669.6 L1760.1 669.2 L1761.1 669 L1762.4 669.3 L1763.8 670 L1765.2 671.1 L1766.6 672.4 L1767.9 673.7 L1769.1 675 L1770.3 676.6 L1771.2 678.6 L1772 680.7 L1772.9 682.6 L1773.9 684.2 L1775.1 685 L1776.6 685.2 L1778.2 684.8 L1780 684.1 L1781.8 683.2 L1783.5 682.1 L1785.2 681 L1786.9 679.7 L1788.6 678.1 L1790.2 676.4 L1791.8 674.5 L1793.4 672.7 L1795.2 671 L1797.1 669.1 L1799.1 667 L1801.1 664.9 L1803.1 663 L1805.2 661.6 L1807.2 661 L1809.1 661.4 L1811.3 662.5 L1813.4 663.9 L1815.3 665.4 L1816.7 666.6 L1817.2 667" stroke="#008000" stroke-width="6.5" stroke-dasharray="22 7.1 7.3 7.4"/>
<path d="M154 791.5 L154.2 790.7 L154.7 788.6 L155.5 785.6 L156.3 782 L157.2 778.4 L158 775.1 L158.9 771 L159.9 766.6 L160.8 762 L161.8 757.5 L162.9 753.1 L164 749.1 L164.9 746.1 L165.8 743.3 L166.8 740.6 L167.8 738 L168.8 735.5 L170 733.1 L171.2 730.6 L172.5 727.9 L173.9 725.3 L175.3 723.1 L176.7 721.6 L178 721.1 L179.4 721.9 L180.8 724 L182.2 727 L183.6 730.4 L184.8 733.9 L186 737.1 L187.2 740.2 L188.2 743.6 L189.2 747 L190.1 750.4 L191 753.8 L192 757.1 L193 760.2 L194 763.4 L194.9 766.6 L195.9 769.7 L196.9 772.5 L198 775.1 L198.8 776.8 L199.6 778.6 L200.3 780.3 L201.2 781.7 L202.1 782.7 L203 783.1 L204.4 782.7 L205.8 781.4 L207.4 779.5 L209 777.3 L210.6 775.1 L212 773.1 L213.4 771.1 L214.7 769 L216 766.9 L217.3 764.7 L218.6 762.8 L220 761.1 L221.3 759.7 L222.7 758.2 L224.1 756.9 L225.5 755.8 L226.8 755.1 L228 755.1 L229.6 756.1 L231 758.3 L232.4 761.3 L233.7 764.6 L234.9 768 L236 771.1 L237.2 774 L238.2 777.1 L239.1 780.2 L240 783.3 L241 786.3 L242 789.1 L242.9 791.4 L243.8 793.6 L244.7 795.8 L245.7 797.9 L246.8 799.7 L248.1 801.1 L249.2 802 L250.5 802.6 L251.8 803.1 L253.2 803.5 L254.6 803.8 L256.1 804.1 L257.7 804.3 L259.3 804.5 L261.1 804.5 L262.8 804.5 L264.5 804.3 L266.1 804.1 L267.5 803.7 L268.8 803 L270.2 802.3 L271.5 801.6 L272.8 801.2 L274.1 801.1 L275.4 801.5 L276.8 802.3 L278.1 803.4 L279.5 804.6 L280.8 805.9 L282.1 807.1 L283.4 808.4 L284.7 809.8 L286 811.2 L287.3 812.6 L288.7 814 L290.1 815.1 L291.4 816 L292.7 816.9 L294 817.8 L295.4 818.5 L296.7 818.9 L298.1 819.1 L299.4 818.9 L300.7 818.3 L302 817.5 L303.3 816.6 L304.7 815.8 L306.1 815.1 L307.7 814.5 L309.3 813.8 L311 813.1 L312.7 812.6 L314.4 812.2 L316.1 812.1 L317.7 812.2 L319.4 812.6 L321 813.2 L322.7 813.8 L324.4 814.5 L326.1 815.1 L328.1 815.8 L330.1 816.8 L332.1 817.7 L334.2 818.5 L336.2 819 L338.1 819.1 L339.9 818.6 L341.6 817.6 L343.2 816.3 L344.9 815 L346.5 813.8 L348.1 813.1 L349.5 812.8 L350.9 812.6 L352.3 812.5 L353.6 812.5 L354.9 812.7 L356.1 813.1 L357.3 813.7 L358.3 814.6 L359.3 815.6 L360.3 816.8 L361.2 817.9 L362.1 819.1 L363 820.5 L363.8 822.1 L364.5 823.8 L365.3 825.4 L366.1 826.5 L367.1 827.1 L368.4 827 L369.9 826.4 L371.5 825.4 L373.1 824.1 L374.7 822.6 L376.1 821.1 L377.9 818.6 L379.6 815.4 L381.2 811.9 L382.8 808.5 L384.4 805.4 L386.1 803.1 L387.3 802 L388.4 801 L389.6 800.2 L390.8 799.5 L392 799.2 L393.1 799.1 L394.4 799.4 L395.6 800.2 L396.9 801.2 L398.1 802.4 L399.2 803.7 L400.1 805.1 L401 806.8 L401.7 808.7 L402.3 810.8 L402.8 812.9 L403.4 815.1 L404.1 817.1 L405 819.1 L405.9 821.2 L406.9 823.2 L408 825.2 L409 827.2 L410.1 829.1 L411.2 831.1 L412.4 833.3 L413.6 835.5 L414.8 837.4 L416 838.7 L417.1 839.1 L418.4 838.2 L419.6 836.1 L420.8 833.2 L422 829.7 L423.1 826.3 L424.1 823.1 L425.2 819.8 L426.1 816.2 L427 812.5 L427.9 808.9 L428.9 805.7 L430.1 803.1 L431 801.7 L432 800.5 L433 799.4 L434 798.4 L435.1 797.7 L436.2 797.1 L437.1 796.8 L438 796.7 L438.9 796.7 L439.9 796.8 L441 796.9 L442.2 797.1 L444.4 797.7 L447.1 798.7 L450 800 L452.9 801.1 L455.6 801.9 L458.2 802.1 L460 801.8 L461.7 801.1 L463.3 800.3 L464.9 799.3 L466.5 798.2 L468.2 797.1 L470.2 795.7 L472.2 794.2 L474.3 792.5 L476.3 790.7 L478.3 788.9 L480.2 787.1 L481.9 785.2 L483.6 783.1 L485.2 781 L486.9 778.9 L488.5 776.9 L490.2 775.1 L491.8 773.5 L493.5 772 L495.3 770.5 L497 769.2 L498.6 768 L500 767.1 L500.7 766.6 L501.4 766.1 L502 765.8 L502.6 765.4 L503.2 765.2 L504 765.1 L505.4 765.2 L506.9 765.7 L508.5 766.3 L510.3 767.1 L512.1 767.7 L514 768.1 L516.5 768.3 L519.2 768.4 L522.1 768.3 L524.9 768.1 L527.6 767.7 L530 767.1 L531.9 766.3 L533.6 765.2 L535.1 764.1 L536.7 762.9 L538.3 761.8 L540 761.1 L541.8 760.6 L543.7 760.2 L545.6 760 L547.5 759.9 L549.3 759.9 L551 760.1 L552.3 760.4 L553.5 760.8 L554.6 761.3 L555.7 761.9 L556.8 762.5 L558 763.1 L559.6 763.8 L561.3 764.7 L563 765.6 L564.7 766.4 L566.4 766.9 L568 767.1 L569.4 766.9 L570.8 766.4 L572.2 765.7 L573.5 764.9 L574.8 764 L576 763.1 L577.4 761.9 L578.8 760.7 L580.1 759.3 L581.4 757.8 L582.7 756.4 L584 755.1 L585.3 753.8 L586.6 752.4 L588 751.1 L589.3 749.8 L590.6 748.8 L592 748.1 L593.4 747.7 L594.7 747.4 L596.1 747.3 L597.5 747.4 L598.8 747.6 L600.1 748.1 L601.2 748.8 L602.3 749.8 L603.3 751 L604.2 752.3 L605.1 753.7 L606.1 755.1 L607.1 756.7 L608 758.5 L608.9 760.4 L609.8 762.2 L610.9 763.8 L612.1 765.1 L613.2 765.9 L614.5 766.6 L615.8 767.2 L617.2 767.6 L618.6 767.9 L620.1 768.1 L621.9 768.1 L624 767.8 L626 767.3 L628.1 766.8 L630.2 766.4 L632.1 766.1 L633.5 765.9 L634.9 765.8 L636.2 765.7 L637.5 765.7 L638.8 765.8 L640.1 766.1 L641.5 766.6 L642.9 767.3 L644.3 768.1 L645.6 769 L646.9 770 L648.1 771.1 L649.2 772.3 L650.2 773.7 L651.1 775.1 L652 776.6 L653 777.9 L654.1 779.1 L655.2 780 L656.4 780.8 L657.7 781.5 L659 782.1 L660.5 782.6 L662.1 783.1 L664.8 783.3 L667.9 783.1 L671.3 782.7 L674.6 782.4 L677.7 782.4 L680.1 783.1 L681.4 784 L682.5 785.3 L683.4 786.8 L684.2 788.3 L685.1 789.8 L686.1 791.1 L687.3 792.2 L688.6 793.2 L690 794.2 L691.4 795.2 L692.7 796.1 L694.1 797.1 L695.5 798.1 L696.9 799 L698.3 799.9 L699.7 800.9 L701 801.9 L702.1 803.1 L702.9 804.3 L703.6 805.7 L704.1 807.1 L704.6 808.5 L705.3 809.9 L706.1 811.1 L707.2 812.3 L708.5 813.4 L709.8 814.5 L711.2 815.5 L712.7 816.4 L714.1 817.1 L715.4 817.7 L716.8 818.3 L718.1 818.8 L719.5 819.2 L720.8 819.3 L722.1 819.1 L723.5 818.4 L724.9 817.1 L726.2 815.6 L727.5 813.9 L728.8 812.4 L730.1 811.1 L731.3 810.2 L732.4 809.2 L733.6 808.4 L734.7 807.7 L735.9 807.2 L737.1 807.1 L738.6 807.5 L740.3 808.4 L741.9 809.6 L743.5 811.1 L744.9 812.6 L746.1 814.1 L747 815.6 L747.6 817.4 L748 819.2 L748.5 820.9 L749.2 822.3 L750.1 823.1 L751.4 823.4 L753 823.1 L754.7 822.5 L756.5 821.7 L758.4 820.9 L760.1 820.1 L762.2 819.3 L764.3 818.5 L766.5 817.6 L768.6 816.5 L770.5 815.4 L772.1 814.1 L773.3 812.6 L774.1 810.7 L774.9 808.8 L775.5 807 L776.3 805.7 L777.1 805.1 L778.2 805.4 L779.4 806.5 L780.5 808.1 L781.8 809.9 L783 811.6 L784.2 813.1 L785.2 814.1 L786.3 815.1 L787.3 816 L788.3 816.9 L789.3 818 L790.2 819.1 L790.9 820.7 L791.5 822.6 L792.1 824.6 L792.6 826.4 L793.3 828 L794.2 829.1 L795 829.6 L795.9 829.8 L796.9 829.9 L798 829.8 L799.1 829.7 L800.2 829.5 L801.8 829.2 L803.5 828.7 L805.3 828 L807.1 827.2 L808.8 826.2 L810.2 825.1 L811.3 823.5 L812.1 821.6 L812.8 819.4 L813.4 817.3 L814.2 815.5 L815.2 814.1 L816 813.4 L817 812.8 L818 812.4 L819.1 812.1 L820.1 812 L821.2 812.1 L822.6 812.6 L824.1 813.6 L825.6 814.9 L827.2 816.4 L828.7 817.8 L830.2 819.1 L831.5 820.3 L832.9 821.6 L834.2 822.9 L835.5 824.1 L836.9 824.8 L838.2 825.1 L839.6 824.7 L841 823.7 L842.4 822.4 L843.8 820.9 L845.1 819.4 L846.2 818.1 L846.9 817.3 L847.6 816.5 L848.2 815.7 L848.8 814.9 L849.4 814.1 L850 813.1 L850.9 811.4 L851.8 809.3 L852.8 807.1 L853.7 804.9 L854.8 802.8 L856 801.1 L857.2 799.8 L858.4 798.6 L859.8 797.5 L861.2 796.6 L862.6 795.7 L864 795.1 L865.3 794.7 L866.6 794.4 L868 794.2 L869.3 794.1 L870.7 794.1 L872 794.1 L873.3 794.2 L874.7 794.5 L876 794.8 L877.3 795 L878.7 795.2 L880 795.1 L881.7 794.6 L883.3 793.9 L885 792.9 L886.7 791.9 L888.4 790.9 L890 790.1 L891.4 789.6 L892.8 789.1 L894.2 788.7 L895.6 788.3 L896.9 787.8 L898 787.1 L899 786.3 L899.9 785.4 L900.7 784.4 L901.4 783.3 L902.2 782.2 L903 781.1 L904.1 779.5 L905.3 777.8 L906.4 776 L907.6 774.3 L908.8 772.6 L910 771.1 L911.2 769.9 L912.3 768.9 L913.5 767.9 L914.7 766.9 L915.9 766 L917 765.1 L918 764.1 L919 763.1 L919.9 762 L920.9 761.1 L921.9 760.4 L923 760.1 L924.4 760.2 L925.8 760.7 L927.3 761.6 L928.9 762.5 L930.5 763.4 L932 764.1 L933.7 764.6 L935.5 765.3 L937.3 765.8 L939 766.2 L940.6 766.3 L942 766.1 L943.1 765.4 L943.9 764.3 L944.6 763 L945.3 761.6 L946.1 760.2 L947.1 759.1 L948.3 757.9 L949.7 756.8 L951.2 755.7 L952.8 754.7 L954.4 753.8 L956.1 753.1 L957.7 752.4 L959.3 751.9 L961 751.4 L962.8 751.1 L964.4 751 L966.1 751.1 L967.6 751.6 L969.1 752.5 L970.6 753.6 L972.1 754.8 L973.6 755.6 L975.1 756.1 L976.5 756 L978 755.6 L979.5 755 L981 754.3 L982.6 753.6 L984.1 753.1 L985.6 752.6 L987.1 752.2 L988.6 751.8 L990.1 751.4 L991.6 751.2 L993.1 751.1 L994.6 751.1 L996.1 751.3 L997.6 751.6 L999.1 752 L1000.6 752.5 L1002.1 753.1 L1003.7 754 L1005.4 755.2 L1007 756.6 L1008.6 757.9 L1010.3 759.1 L1012.1 760.1 L1014 760.7 L1016.1 761.2 L1018.2 761.5 L1020.2 761.8 L1022.3 761.9 L1024.1 762.1 L1025.4 762.1 L1026.6 762 L1027.7 761.9 L1028.8 761.8 L1029.9 761.8 L1031.1 762.1 L1032.6 762.8 L1034.1 763.8 L1035.6 765.1 L1037.1 766.5 L1038.6 767.9 L1040.1 769.1 L1041.5 770.1 L1043 771 L1044.5 771.9 L1045.9 772.8 L1047.1 773.9 L1048.1 775.1 L1048.7 776.7 L1049 778.6 L1049 780.6 L1049.1 782.6 L1049.4 784.1 L1050.1 785.1 L1051.1 785.4 L1052.3 785.3 L1053.7 784.9 L1055.2 784.3 L1056.7 783.7 L1058.1 783.1 L1059.8 782.3 L1061.5 781.3 L1063.2 780.2 L1064.9 779.1 L1066.5 778.1 L1068.1 777.1 L1069.3 776.3 L1070.5 775.5 L1071.6 774.8 L1072.7 774.1 L1073.9 773.5 L1075.1 773.1 L1076.6 772.7 L1078.1 772.5 L1079.7 772.3 L1081.3 772.4 L1082.8 772.6 L1084.1 773.1 L1085.4 773.9 L1086.5 775.1 L1087.5 776.5 L1088.4 778 L1089.3 779.6 L1090.1 781.1 L1090.9 782.7 L1091.5 784.4 L1092 786.1 L1092.6 787.9 L1093.3 789.5 L1094.1 791.1 L1095.2 792.6 L1096.5 794 L1097.9 795.3 L1099.3 796.6 L1100.7 797.9 L1102.1 799.1 L1103.5 800.2 L1104.9 801.2 L1106.3 802.1 L1107.7 803.1 L1109 804 L1110.1 805.1 L1110.9 806.1 L1111.5 807.1 L1112.1 808.2 L1112.6 809.2 L1113.3 810.2 L1114.1 811.1 L1115.5 812.1 L1117 813.1 L1118.8 814 L1120.6 814.8 L1122.4 815.5 L1124.1 816.1 L1125.8 816.6 L1127.6 817.1 L1129.3 817.4 L1131.1 817.6 L1132.7 817.5 L1134.2 817.1 L1135.5 815.9 L1136.7 814.1 L1137.8 811.9 L1138.8 809.8 L1139.9 808.1 L1141.2 807.1 L1142.2 806.9 L1143.4 807 L1144.6 807.3 L1145.8 807.8 L1147 808.4 L1148.2 809.1 L1149.5 810.1 L1150.8 811.4 L1152.1 812.9 L1153.4 814.4 L1154.8 815.9 L1156.2 817.1 L1157.6 818.2 L1159.1 819.3 L1160.6 820.4 L1162.1 821.3 L1163.7 821.9 L1165.2 822.1 L1166.7 821.9 L1168.2 821.2 L1169.7 820.3 L1171.2 819.2 L1172.7 818.1 L1174.2 817.1 L1175.6 816.2 L1177 815.3 L1178.5 814.3 L1179.8 813.3 L1181.1 812.3 L1182.2 811.1 L1183 809.8 L1183.7 808.4 L1184.3 806.9 L1184.8 805.4 L1185.4 804.1 L1186.2 803.1 L1186.8 802.5 L1187.4 802 L1188.1 801.6 L1188.7 801.3 L1189.4 801.1 L1190.2 801.1 L1191.4 801.4 L1192.9 802.2 L1194.4 803.2 L1195.9 804.5 L1197.2 805.8 L1198.2 807.1 L1198.7 808.3 L1199 809.6 L1199.2 810.9 L1199.3 812.3 L1199.5 813.7 L1200 815.1 L1201 816.8 L1202.2 818.5 L1203.6 820.3 L1205.2 822 L1206.6 823.6 L1208 825.1 L1209 826.4 L1210.1 827.7 L1211.1 829 L1212.1 830.1 L1213 830.9 L1214 831.1 L1215 830.6 L1216 829.5 L1217 828 L1217.9 826.3 L1218.9 824.6 L1220 823.1 L1221.2 821.7 L1222.5 820.3 L1223.9 819 L1225.2 817.6 L1226.6 816.3 L1228 815.1 L1229.4 813.9 L1230.8 812.5 L1232.2 811.1 L1233.6 810 L1234.9 809.3 L1236 809.1 L1236.8 809.5 L1237.4 810.4 L1238 811.6 L1238.6 812.9 L1239.2 814.1 L1240 815.1 L1241.1 815.9 L1242.4 816.6 L1243.8 817.2 L1245.3 817.8 L1246.7 818.4 L1248 819.1 L1249.4 820.2 L1250.8 821.5 L1252.2 822.9 L1253.5 824.1 L1254.8 824.9 L1256 825.1 L1257.1 824.6 L1258.2 823.5 L1259.2 822 L1260.1 820.3 L1261.1 818.6 L1262 817.1 L1263 815.8 L1264 814.4 L1265 813 L1266 811.7 L1267 810.3 L1268 809.1 L1269 808 L1269.9 806.9 L1270.9 805.8 L1271.9 804.8 L1272.9 803.9 L1274 803.1 L1275.2 802.4 L1276.5 801.7 L1277.8 801.1 L1279.2 800.6 L1280.6 800.3 L1282 800.1 L1283.6 800.1 L1285.3 800.5 L1287 800.9 L1288.7 801.4 L1290.4 801.9 L1292 802.1 L1293.7 802.1 L1295.5 802.1 L1297.2 802 L1298.9 801.8 L1300.5 801.5 L1302.1 801.1 L1303.3 800.6 L1304.5 800 L1305.7 799.4 L1306.8 798.7 L1307.9 797.9 L1309.1 797.1 L1310.3 796.2 L1311.4 795.3 L1312.6 794.2 L1313.8 793.2 L1314.9 792.2 L1316.1 791.1 L1317.3 790 L1318.5 788.8 L1319.7 787.7 L1320.9 786.5 L1322 785.3 L1323.1 784.1 L1324 782.9 L1324.8 781.8 L1325.6 780.6 L1326.4 779.5 L1327.2 778.3 L1328.1 777.1 L1329 775.8 L1330 774.4 L1331 773.1 L1332 771.7 L1333 770.4 L1334.1 769.1 L1335.2 767.7 L1336.3 766.2 L1337.5 764.8 L1338.7 763.4 L1339.9 762.1 L1341.1 761.1 L1342 760.3 L1343 759.7 L1343.9 759.1 L1344.9 758.6 L1346 758.3 L1347.1 758.1 L1348.7 758.1 L1350.5 758.5 L1352.4 759.1 L1354.4 759.8 L1356.3 760.5 L1358.1 761.1 L1359.7 761.6 L1361.3 762.1 L1362.8 762.7 L1364.4 763.1 L1365.8 763.3 L1367.1 763.1 L1368.3 762.3 L1369.3 761.2 L1370.3 759.8 L1371.2 758.2 L1372.1 756.6 L1373.1 755.1 L1374.2 753.4 L1375.3 751.5 L1376.3 749.6 L1377.5 747.8 L1378.7 746.3 L1380.1 745.1 L1381.5 744.3 L1383 743.6 L1384.6 743.1 L1386.2 742.8 L1387.8 742.8 L1389.1 743.1 L1390.3 743.8 L1391.3 745 L1392.3 746.4 L1393.2 748 L1394.1 749.6 L1395.1 751.1 L1396.2 752.4 L1397.4 753.8 L1398.6 755.2 L1399.8 756.5 L1400.9 757.8 L1402.1 759.1 L1403.1 760.2 L1404.1 761.2 L1405.1 762.2 L1406.1 763.2 L1407.1 764.2 L1408.1 765.1 L1408.9 765.9 L1409.8 766.8 L1410.6 767.7 L1411.4 768.4 L1412.2 768.9 L1413.1 769.1 L1414.2 768.7 L1415.4 767.7 L1416.5 766.4 L1417.7 764.9 L1418.9 763.4 L1420.1 762.1 L1421.4 760.9 L1422.8 759.8 L1424.2 758.7 L1425.6 757.5 L1426.9 756.3 L1428.1 755.1 L1429.1 753.7 L1429.9 752 L1430.6 750.3 L1431.4 748.7 L1432.2 747.6 L1433.1 747.1 L1434.2 747.2 L1435.5 747.9 L1436.8 749 L1438 750.3 L1439.2 751.7 L1440.1 753.1 L1440.9 754.5 L1441.4 756.1 L1441.9 757.8 L1442.2 759.6 L1442.6 761.4 L1443.1 763.1 L1443.7 764.8 L1444.3 766.5 L1444.9 768.3 L1445.5 770 L1446.3 771.6 L1447.1 773.1 L1448 774.2 L1449 775.2 L1450 776.2 L1451.1 777.1 L1452.1 778 L1453.1 779.1 L1454.2 780.5 L1455.2 782.3 L1456.3 784.1 L1457.3 785.7 L1458.2 786.7 L1459.1 787.1 L1460.1 786.3 L1460.8 784.4 L1461.6 781.8 L1462.3 778.9 L1463.1 776.2 L1464.1 774.1 L1465.2 772.7 L1466.3 771.4 L1467.5 770.3 L1468.7 769.2 L1469.9 768.2 L1471.1 767.1 L1472.3 766.1 L1473.5 765.1 L1474.8 764.1 L1476 763.2 L1477.1 762.2 L1478.1 761.1 L1479.1 759.7 L1479.9 758 L1480.7 756.3 L1481.4 754.8 L1482.2 753.6 L1483.2 753.1 L1484.2 753.2 L1485.5 753.9 L1486.7 755 L1488 756.3 L1489.1 757.7 L1490.2 759.1 L1491.1 760.5 L1491.9 762.1 L1492.6 763.8 L1493.2 765.5 L1493.7 767.3 L1494.2 769.1 L1494.4 771 L1494.5 773 L1494.5 775.1 L1494.5 777.1 L1494.6 779.2 L1495 781.1 L1495.6 782.9 L1496.4 784.6 L1497.2 786.4 L1498.2 788 L1499.1 789.6 L1500 791.1 L1500.6 792.2 L1501.3 793.2 L1501.9 794.2 L1502.5 795.2 L1503.2 796.2 L1504 797.1 L1505 798.2 L1506.1 799.2 L1507.3 800.3 L1508.5 801.3 L1509.7 802.2 L1511 803.1 L1512.3 804 L1513.6 804.9 L1514.9 805.7 L1516.3 806.4 L1517.6 806.9 L1519 807.1 L1520.5 806.8 L1522 806.1 L1523.5 805.2 L1525 804.2 L1526.5 803.4 L1528 803.1 L1529.4 803.2 L1530.7 803.5 L1532 804.1 L1533.4 804.7 L1534.7 805.4 L1536 806.1 L1537.5 806.9 L1539 807.9 L1540.6 809 L1542.1 810 L1543.6 811.1 L1545 812.1 L1546.4 813 L1547.7 814 L1549 815 L1550.3 815.9 L1551.6 816.6 L1553 817.1 L1554.5 817.3 L1555.9 817.2 L1557.4 816.9 L1558.9 816.6 L1560.5 816.3 L1562 816.1 L1563.8 816 L1565.6 816 L1567.5 816 L1569.4 816.1 L1571.2 816.1 L1573 816.1 L1574.8 816.1 L1576.5 816.1 L1578.1 816 L1579.8 816 L1581.5 816 L1583 816.1 L1584.4 816.2 L1585.8 816.2 L1587.2 816.2 L1588.5 816.3 L1589.8 816.6 L1591.1 817.1 L1592.4 818.1 L1593.7 819.4 L1595 821 L1596.3 822.6 L1597.6 824 L1599.1 825.1 L1600.7 825.9 L1602.4 826.6 L1604.3 827.2 L1606.1 827.5 L1607.7 827.5 L1609.1 827.1 L1610.1 825.9 L1610.8 824.1 L1611.2 821.8 L1611.7 819.4 L1612.2 817.1 L1613.1 815.1 L1614.2 813.6 L1615.4 812.1 L1616.8 810.7 L1618.2 809.5 L1619.7 808.3 L1621.1 807.1 L1622.2 806.2 L1623.4 805.3 L1624.6 804.6 L1625.8 803.8 L1626.9 803 L1628.1 802.1 L1629.2 800.9 L1630.4 799.4 L1631.5 797.9 L1632.6 796.6 L1633.8 795.6 L1635.1 795.1 L1636.6 795.4 L1638.2 796.3 L1639.9 797.7 L1641.6 799.1 L1643.3 800.4 L1645.1 801.1 L1646.7 801.3 L1648.4 801.3 L1650.1 801.1 L1651.7 800.8 L1653.4 800.4 L1655.1 800.1 L1656.8 799.6 L1658.5 798.9 L1660.1 798.2 L1661.8 797.5 L1663.5 797.1 L1665.1 797.1 L1666.8 797.6 L1668.6 798.4 L1670.4 799.5 L1672.1 800.8 L1673.7 802 L1675.1 803.1 L1676 803.8 L1676.9 804.5 L1677.7 805.1 L1678.5 805.8 L1679.3 806.4 L1680.1 807.1 L1681 807.8 L1682 808.6 L1683 809.4 L1684 810.1 L1685 810.7 L1686.1 811.1 L1687.2 811.4 L1688.3 811.6 L1689.5 811.7 L1690.7 811.6 L1691.9 811.4 L1693.1 811.1 L1694.8 810.3 L1696.5 809.1 L1698.2 807.6 L1699.9 806 L1701.5 804.5 L1703.1 803.1 L1704.3 802 L1705.5 801 L1706.6 800 L1707.7 799 L1708.9 798 L1710.1 797.1 L1711.5 796.2 L1713 795.3 L1714.5 794.5 L1716.1 793.7 L1717.6 792.9 L1719.1 792.1 L1720.6 791.2 L1722.1 790.4 L1723.6 789.5 L1725.2 788.7 L1726.6 787.9 L1728.1 787.1 L1729.5 786.4 L1730.9 785.9 L1732.4 785.3 L1733.7 784.7 L1735 784 L1736.1 783.1 L1737.2 781.7 L1738.1 780.1 L1738.8 778.3 L1739.5 776.5 L1740.3 774.7 L1741.1 773.1 L1742 771.6 L1743 770.2 L1744 768.9 L1745 767.5 L1746 766.3 L1747.1 765.1 L1748.2 763.9 L1749.3 762.8 L1750.4 761.6 L1751.6 760.7 L1752.9 759.9 L1754.1 759.5 L1755.5 759.4 L1757 759.6 L1758.5 760.1 L1760 760.8 L1761.6 761.4 L1763.1 762.1 L1765.1 763 L1767.1 764.1 L1769.2 765.3 L1771.3 766.4 L1773.3 767.2 L1775.1 767.5 L1776.6 767.3 L1778 767 L1779.3 766.4 L1780.6 765.7 L1781.9 764.9 L1783.2 764.1 L1784.5 763.1 L1785.9 761.9 L1787.2 760.6 L1788.5 759.3 L1789.8 758.1 L1791.2 757.1 L1792.4 756.2 L1793.7 755.3 L1795 754.5 L1796.4 753.8 L1797.8 753.3 L1799.2 753.1 L1800.8 753.1 L1802.4 753.6 L1804.1 754.2 L1805.8 754.9 L1807.5 755.6 L1809.2 756.1 L1810.9 756.4 L1812.9 756.7 L1814.8 757 L1816.5 757.3 L1817.7 757.4 L1818.2 757.5" stroke="#ff0000" stroke-width="6.5" stroke-dasharray="22 7.1"/>
</g>
<rect x="1224" y="46.5" width="594.3" height="323.1" fill="#fff" stroke="#000" stroke-width="7.2"/>
<path d="M1244.8 82.1 H1363.9" fill="none" stroke="#0000ff" stroke-width="7.3"/>
<text class="lg" x="1375.3" y="99.5" textLength="109" lengthAdjust="spacingAndGlyphs">Road</text>
<path d="M1244.8 144 H1363.9" fill="none" stroke="#ff00ff" stroke-width="7.3" stroke-dasharray="7.06 7.57"/>
<text class="lg" x="1375.3" y="160.6" textLength="257.4" lengthAdjust="spacingAndGlyphs">MacPherson</text>
<path d="M1244.8 205.7 H1363.9" fill="none" stroke="#000" stroke-width="7.3"/>
<text class="lg" x="1375.3" y="223.2" textLength="243.6" lengthAdjust="spacingAndGlyphs">FSB-ASMC</text>
<path d="M1244.8 269.7 H1363.9" fill="none" stroke="#008000" stroke-width="7.3" stroke-dasharray="22 7.1 7.3 7.4"/>
<text class="lg" x="1375.3" y="287.6" textLength="340.8" lengthAdjust="spacingAndGlyphs">FSB-ASMC+H∞</text>
<path d="M1244.8 331.5 H1363.9" fill="none" stroke="#ff0000" stroke-width="7.3" stroke-dasharray="22 7.1"/>
<text class="lg" x="1376.9" y="348" textLength="424.6" lengthAdjust="spacingAndGlyphs">GP-FSB-ASMC+H∞</text>
<text class="tk" x="151.9" y="1589.2" text-anchor="middle">0</text>
<text class="tk" x="317.4" y="1589.2" text-anchor="middle">1</text>
<text class="tk" x="482.8" y="1589.2" text-anchor="middle">2</text>
<text class="tk" x="650.9" y="1589.2" text-anchor="middle">3</text>
<text class="tk" x="816.4" y="1589.2" text-anchor="middle">4</text>
<text class="tk" x="984.5" y="1589.2" text-anchor="middle">5</text>
<text class="tk" x="1150" y="1589.2" text-anchor="middle">6</text>
<text class="tk" x="1315.6" y="1589.2" text-anchor="middle">7</text>
<text class="tk" x="1483.5" y="1589.2" text-anchor="middle">8</text>
<text class="tk" x="1649.2" y="1589.2" text-anchor="middle">9</text>
<text class="tk" x="1817.3" y="1589.2" text-anchor="middle" textLength="50.5" lengthAdjust="spacingAndGlyphs">10</text>
<text class="tk" x="139.3" y="62.2" text-anchor="end">3</text>
<text class="tk" x="139.3" y="308.4" text-anchor="end">2</text>
<text class="tk" x="139.3" y="557.6" text-anchor="end">1</text>
<text class="tk" x="139.3" y="806.7" text-anchor="end">0</text>
<text class="tk" x="139.3" y="1054" text-anchor="end">-1</text>
<text class="tk" x="139.3" y="1303.6" text-anchor="end">-2</text>
<text class="tk" x="139.3" y="1553.9" text-anchor="end">-3</text>
<text class="lb" x="871.5" y="1643.6" textLength="219.1" lengthAdjust="spacing">Time (sec)</text>
<text class="lb" transform="translate(71 979.5) rotate(-90) scale(1,1.1)" textLength="385" lengthAdjust="spacing">Displacement (cm)</text>
</svg></body></html>
